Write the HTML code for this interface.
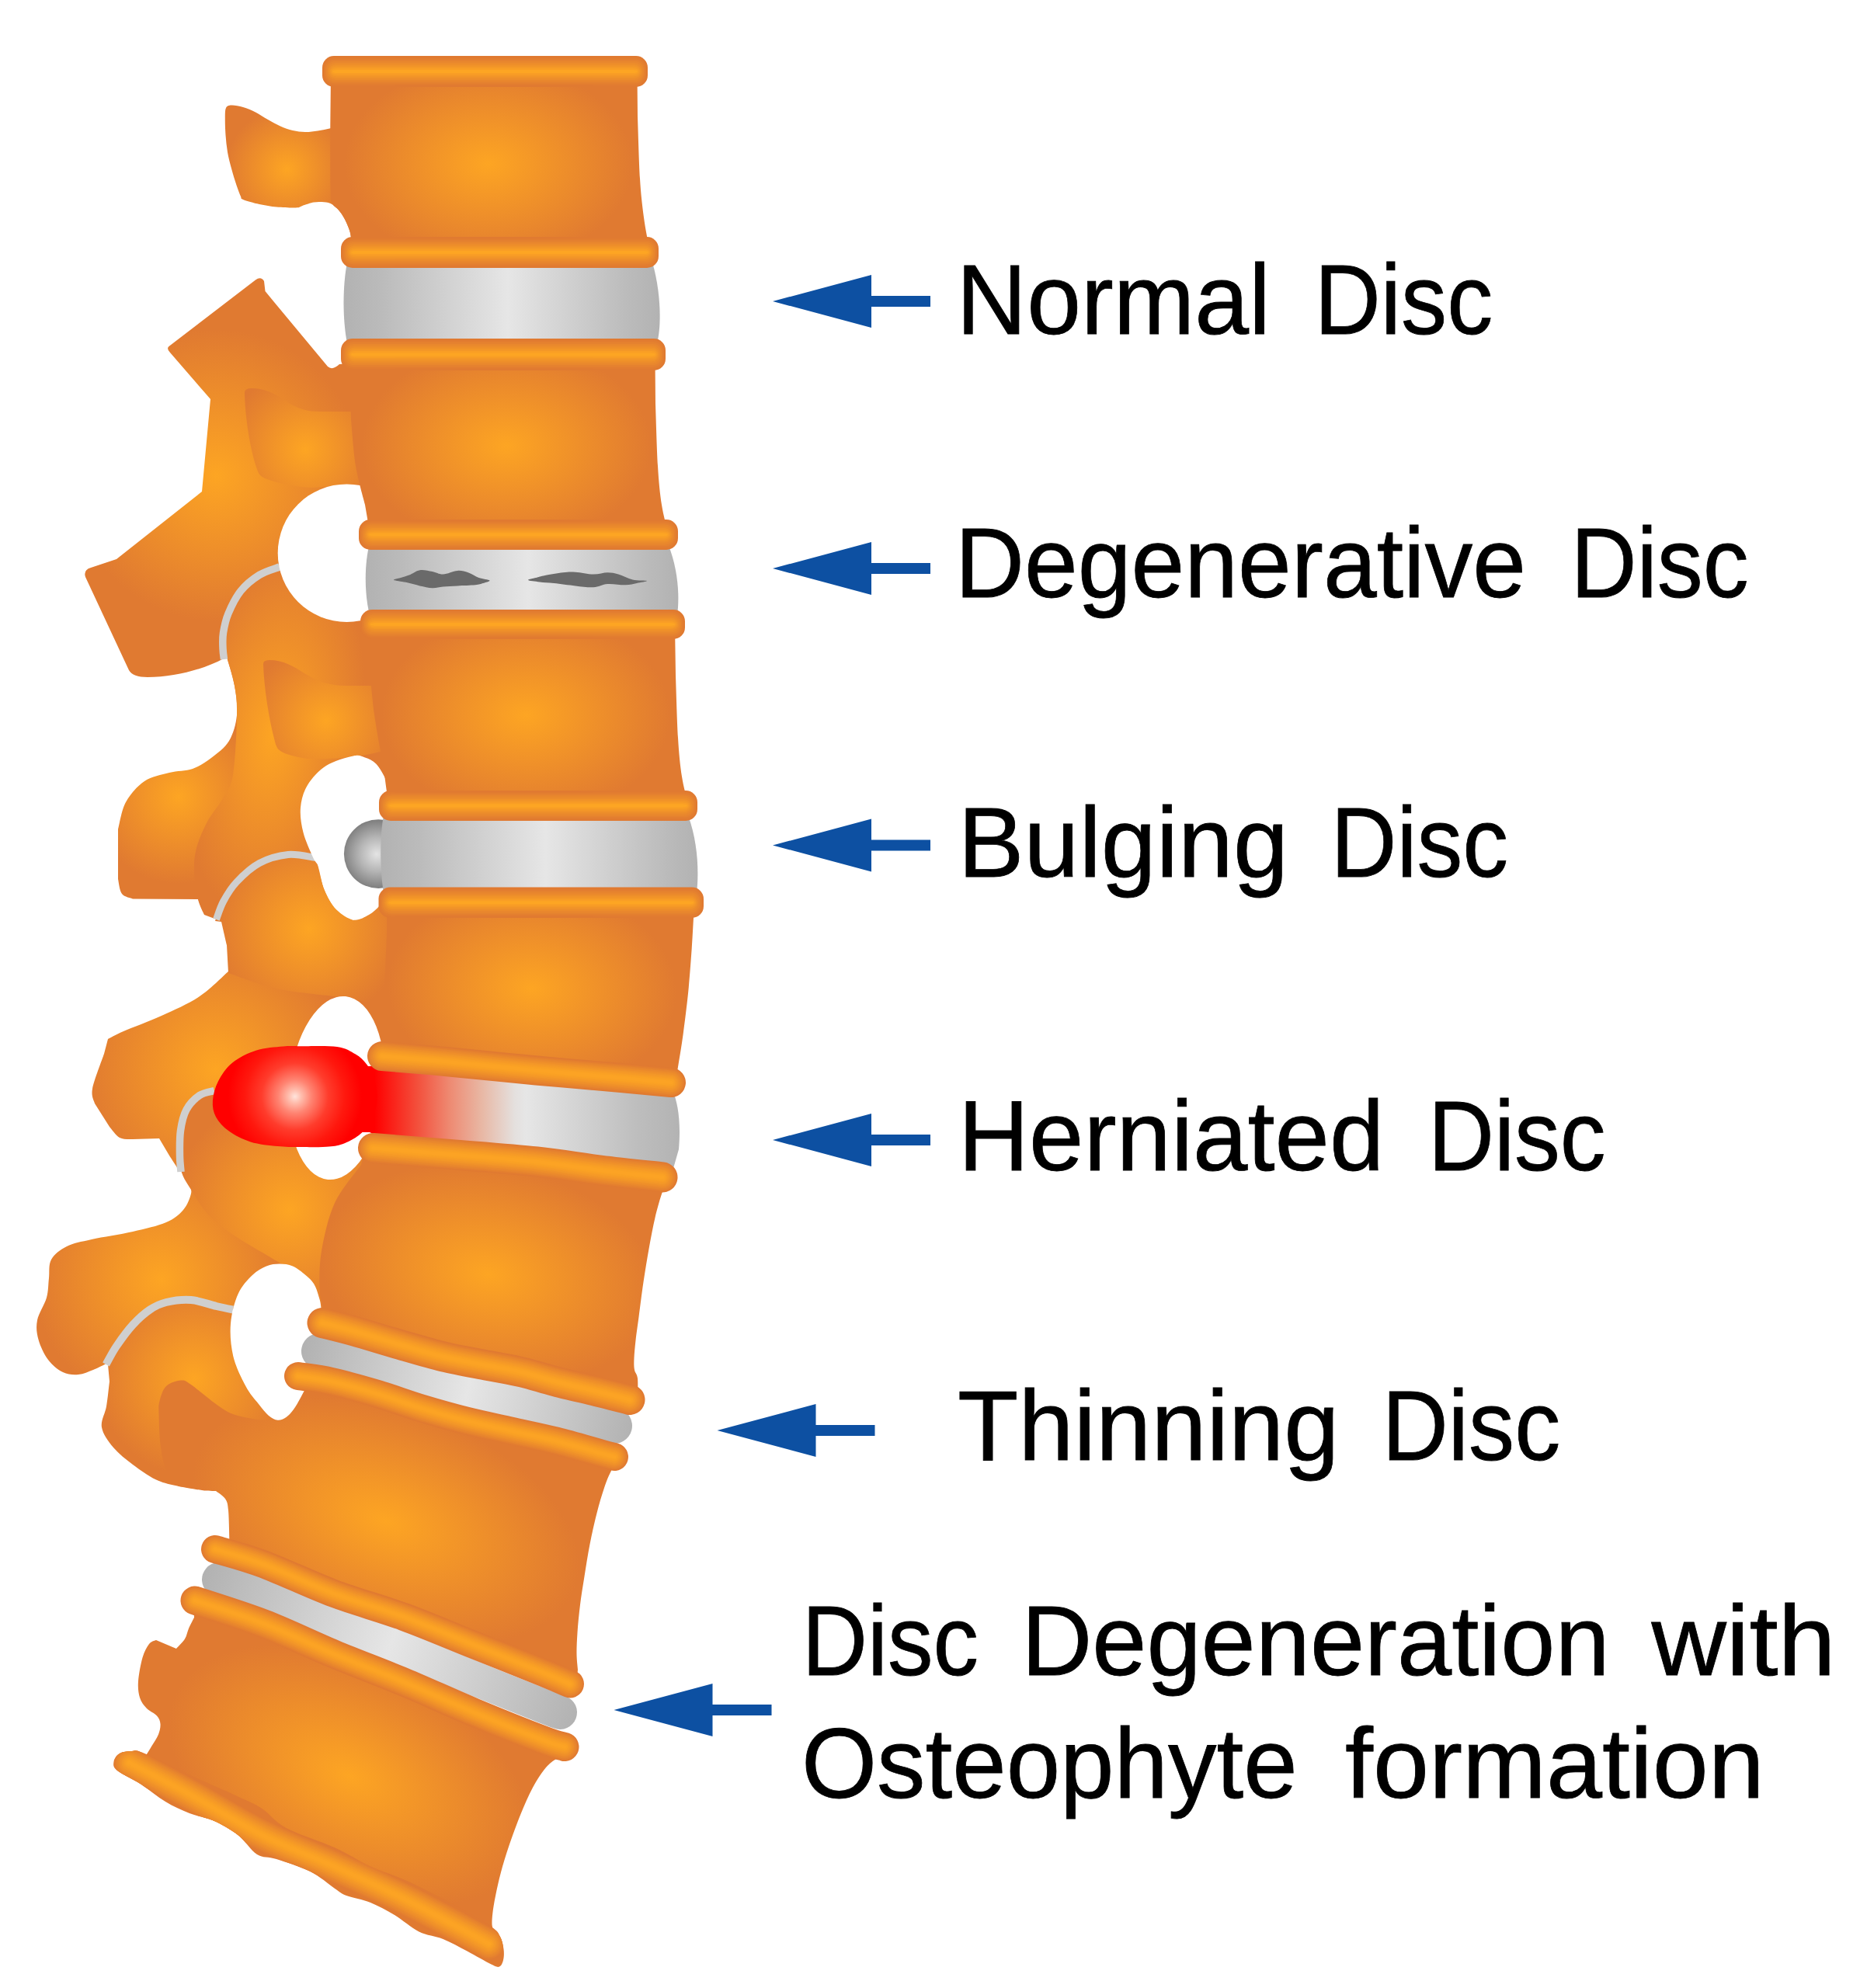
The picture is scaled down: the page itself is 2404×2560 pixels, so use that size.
<!DOCTYPE html>
<html><head><meta charset="utf-8"><title>Spinal disc conditions</title>
<style>
html,body{margin:0;padding:0;background:#fff;}
svg{display:block;}
text{font-family:"Liberation Sans",sans-serif;font-size:128px;fill:#000;stroke:#000;stroke-width:0.8px;}
</style></head><body>
<svg width="2404" height="2560" viewBox="0 0 2404 2560">
<defs>
<linearGradient id="disc" x1="0" x2="1" y1="0" y2="0"><stop offset="0" stop-color="#B2B2B2"/><stop offset="0.12" stop-color="#BBBBBB"/><stop offset="0.52" stop-color="#E6E6E6"/><stop offset="0.9" stop-color="#BBBBBB"/><stop offset="1" stop-color="#B2B2B2"/></linearGradient>
<radialGradient id="g1" gradientUnits="userSpaceOnUse" cx="369.5" cy="218" r="79"><stop offset="0.0" stop-color="#FDA523"/><stop offset="1.0" stop-color="#E07A31"/></radialGradient>
<radialGradient id="g2" gradientUnits="userSpaceOnUse" cx="279" cy="612" r="188"><stop offset="0.0" stop-color="#FDA523"/><stop offset="1.0" stop-color="#E07A31"/></radialGradient>
<radialGradient id="g3" gradientUnits="userSpaceOnUse" cx="393" cy="579" r="102"><stop offset="0.0" stop-color="#FDA523"/><stop offset="1.0" stop-color="#E07A31"/></radialGradient>
<radialGradient id="g4" gradientUnits="userSpaceOnUse" cx="230" cy="1026" r="112"><stop offset="0.0" stop-color="#FDA523"/><stop offset="1.0" stop-color="#E07A31"/></radialGradient>
<radialGradient id="g5" gradientUnits="userSpaceOnUse" cx="0" cy="0" r="1" gradientTransform="translate(352 945) rotate(8) scale(115 235)"><stop offset="0" stop-color="#FDA523"/><stop offset="1" stop-color="#E07A31"/></radialGradient>
<radialGradient id="g6" gradientUnits="userSpaceOnUse" cx="420" cy="928" r="100"><stop offset="0.0" stop-color="#FDA523"/><stop offset="1.0" stop-color="#E07A31"/></radialGradient>
<radialGradient id="g7" gradientUnits="userSpaceOnUse" cx="278" cy="1377" r="170"><stop offset="0.0" stop-color="#FDA523"/><stop offset="1.0" stop-color="#E07A31"/></radialGradient>
<radialGradient id="g8" gradientUnits="userSpaceOnUse" cx="398" cy="1196" r="122"><stop offset="0.0" stop-color="#FDA523"/><stop offset="1.0" stop-color="#E07A31"/></radialGradient>
<radialGradient id="g9" gradientUnits="userSpaceOnUse" cx="208" cy="1648" r="165"><stop offset="0.0" stop-color="#FDA523"/><stop offset="1.0" stop-color="#E07A31"/></radialGradient>
<radialGradient id="g10" gradientUnits="userSpaceOnUse" cx="373" cy="1558" r="150"><stop offset="0.0" stop-color="#FDA523"/><stop offset="1.0" stop-color="#E07A31"/></radialGradient>
<radialGradient id="g11" gradientUnits="userSpaceOnUse" cx="250" cy="1775" r="125"><stop offset="0.0" stop-color="#FDA523"/><stop offset="1.0" stop-color="#E07A31"/></radialGradient>
<radialGradient id="g12" gradientUnits="userSpaceOnUse" cx="0" cy="0" r="1" gradientTransform="translate(497 1959) rotate(19) scale(258 146)"><stop offset="0" stop-color="#FDA523"/><stop offset="1" stop-color="#E07A31"/></radialGradient>
<radialGradient id="g13" gradientUnits="userSpaceOnUse" cx="0" cy="0" r="1" gradientTransform="translate(629 211) rotate(0) scale(186 130)"><stop offset="0" stop-color="#FDA523"/><stop offset="1" stop-color="#E07A31"/></radialGradient>
<radialGradient id="g14" gradientUnits="userSpaceOnUse" cx="0" cy="0" r="1" gradientTransform="translate(652 574) rotate(0) scale(186 130)"><stop offset="0" stop-color="#FDA523"/><stop offset="1" stop-color="#E07A31"/></radialGradient>
<radialGradient id="g15" gradientUnits="userSpaceOnUse" cx="0" cy="0" r="1" gradientTransform="translate(677 921) rotate(0) scale(186 132)"><stop offset="0" stop-color="#FDA523"/><stop offset="1" stop-color="#E07A31"/></radialGradient>
<radialGradient id="g16" gradientUnits="userSpaceOnUse" cx="0" cy="0" r="1" gradientTransform="translate(685 1273) rotate(3) scale(186 132)"><stop offset="0" stop-color="#FDA523"/><stop offset="1" stop-color="#E07A31"/></radialGradient>
<radialGradient id="g17" gradientUnits="userSpaceOnUse" cx="0" cy="0" r="1" gradientTransform="translate(629 1641) rotate(10) scale(218 140)"><stop offset="0" stop-color="#FDA523"/><stop offset="1" stop-color="#E07A31"/></radialGradient>
<radialGradient id="g18" gradientUnits="userSpaceOnUse" cx="0" cy="0" r="1" gradientTransform="translate(450 2287) rotate(25) scale(248 146)"><stop offset="0" stop-color="#FDA523"/><stop offset="1" stop-color="#E07A31"/></radialGradient>
<radialGradient id="bulge" gradientUnits="userSpaceOnUse" cx="485" cy="1100" r="45"><stop offset="0" stop-color="#E4E4E4"/><stop offset="0.5" stop-color="#B4B4B4"/><stop offset="1" stop-color="#7C7C7C"/></radialGradient>
<linearGradient id="d4" gradientUnits="userSpaceOnUse" x1="470" x2="880" y1="0" y2="0"><stop offset="0" stop-color="#FF0000"/><stop offset="0.03" stop-color="#FF0000"/><stop offset="0.165" stop-color="#F3503C"/><stop offset="0.266" stop-color="#EE8A72"/><stop offset="0.368" stop-color="#E8B8A5"/><stop offset="0.47" stop-color="#E4E0DE"/><stop offset="0.505" stop-color="#E6E6E6"/><stop offset="0.85" stop-color="#BEBEBE"/><stop offset="1" stop-color="#B2B2B2"/></linearGradient>
<linearGradient id="d5" gradientUnits="userSpaceOnUse" x1="390" x2="815" y1="1740" y2="1840"><stop offset="0" stop-color="#B2B2B2"/><stop offset="0.5" stop-color="#E6E6E6"/><stop offset="1" stop-color="#B2B2B2"/></linearGradient>
<linearGradient id="d6" gradientUnits="userSpaceOnUse" x1="262" x2="745" y1="2030" y2="2205"><stop offset="0" stop-color="#B2B2B2"/><stop offset="0.5" stop-color="#E6E6E6"/><stop offset="1" stop-color="#B2B2B2"/></linearGradient>
<clipPath id="c19"><path d="M146.5,2268.5 C147.0,2264.8 150.1,2260.2 154.0,2258.0 C157.9,2255.8 164.8,2255.1 170.0,2255.0 C175.2,2254.9 172.7,2252.4 185.0,2257.5 C197.3,2262.6 223.8,2276.2 244.0,2285.5 C264.2,2294.8 290.9,2306.2 306.5,2313.5 C322.1,2320.8 327.2,2322.2 337.5,2329.0 C347.8,2335.8 353.0,2345.7 368.5,2354.0 C384.0,2362.3 412.4,2370.8 430.5,2379.0 C448.6,2387.2 461.4,2396.3 477.0,2403.5 C492.6,2410.7 505.8,2413.7 524.0,2422.0 C542.2,2430.3 567.9,2443.7 586.0,2453.5 C604.1,2463.3 622.8,2474.2 632.5,2481.0 C642.2,2487.8 641.3,2489.2 644.0,2494.0 C646.7,2498.8 647.8,2505.0 648.5,2510.0 C649.2,2515.0 648.9,2520.2 648.0,2524.0 C647.1,2527.8 645.6,2531.6 643.0,2532.5 C640.4,2533.4 639.4,2532.8 632.5,2529.5 C625.6,2526.2 611.8,2517.9 601.5,2512.5 C591.2,2507.1 580.8,2501.2 570.5,2497.0 C560.2,2492.8 549.9,2492.7 539.5,2487.5 C529.1,2482.3 518.4,2472.2 508.0,2466.0 C497.6,2459.8 487.3,2454.2 477.0,2450.0 C466.7,2445.8 453.8,2444.1 446.0,2441.0 C438.2,2437.9 438.2,2436.7 430.5,2431.5 C422.8,2426.3 411.9,2416.2 399.5,2410.0 C387.1,2403.8 367.4,2397.7 356.0,2394.0 C344.6,2390.3 339.2,2393.2 331.0,2388.0 C322.8,2382.8 315.8,2370.2 306.5,2363.0 C297.2,2355.8 285.4,2349.2 275.0,2344.5 C264.6,2339.8 254.3,2339.1 244.0,2335.0 C233.7,2330.9 223.3,2326.2 213.0,2320.0 C202.7,2313.8 192.3,2304.7 182.0,2298.0 C171.7,2291.3 156.9,2284.9 151.0,2280.0 C145.1,2275.1 146.0,2272.2 146.5,2268.5Z"/></clipPath>
<radialGradient id="red" gradientUnits="userSpaceOnUse" cx="379.8" cy="1412" r="86"><stop offset="0" stop-color="#FFE4DC"/><stop offset="0.1" stop-color="#FFBCAC"/><stop offset="0.25" stop-color="#FF8472"/><stop offset="0.5" stop-color="#FF3C2C"/><stop offset="0.75" stop-color="#FF180E"/><stop offset="1" stop-color="#FF0000"/></radialGradient>
</defs>
<rect width="2404" height="2560" fill="#fff"/>
<path d="M445.0,160.0 C441.9,160.8 432.5,163.6 426.5,165.0 C420.5,166.4 414.6,167.7 409.0,168.5 C403.4,169.3 398.3,170.1 393.0,170.0 C387.7,169.9 382.3,169.2 377.0,168.0 C371.7,166.8 366.3,164.8 361.0,162.5 C355.7,160.2 350.3,157.0 345.0,154.0 C339.7,151.0 334.3,147.2 329.0,144.5 C323.7,141.8 318.2,139.5 313.0,138.0 C307.8,136.5 301.7,135.3 298.0,135.5 C294.3,135.7 292.4,136.1 291.0,139.0 C289.6,141.9 289.9,147.2 289.8,153.0 C289.7,158.8 290.0,166.8 290.5,174.0 C291.0,181.2 291.8,188.8 293.0,196.0 C294.2,203.2 296.1,209.9 298.0,217.0 C299.9,224.1 302.5,232.5 304.5,238.5 C306.5,244.5 308.6,249.9 310.0,253.0 C311.4,256.1 309.0,255.3 313.0,257.0 C317.0,258.7 326.8,261.4 334.0,263.0 C341.2,264.6 348.8,265.8 356.0,266.5 C363.2,267.2 372.2,267.4 377.0,267.5 C381.8,267.6 383.2,267.3 384.5,267.3 L391.0,264.3 C393.2,263.7 400.1,261.2 404.0,260.5 C407.9,259.8 410.9,259.8 414.5,260.0 C418.1,260.2 421.9,260.2 425.5,262.0 C429.1,263.8 433.0,267.2 436.0,270.5 C439.0,273.8 441.2,277.2 443.5,281.5 C445.8,285.8 448.6,292.4 450.0,296.5 C451.4,300.6 451.7,304.4 452.0,306.0 L470.0,306.0 L470.0,160.0Z" fill="url(#g1)" />
<path d="M217.5,446 L329,360.5 Q336,355.5 340,362 L341.5,375 L353,389 L422,472 Q428,477.5 437,469 L480,466 L480,720 L358,731 C325,744 296,772 288,805 L288,848 C262,862 225,872 190,872 Q171,872 166,863 L110,743 Q107,734 117,731 L150,720 L260,633 L271,514 L219,454 Q214,449 217.5,446 Z" fill="url(#g2)" />
<path d="M315,507 Q314,500 324,500 C345,500 360,511 372,519 C385,527 397,530 412,530 L480,530 L480,622 L402,628 C380,627 360,623 341,616 Q334,613 332,607 C322,580 316,540 315,507 Z" fill="url(#g3)" />
<path d="M292.0,846.0 C293.7,852.2 299.8,870.5 302.0,883.0 C304.2,895.5 306.2,909.2 305.0,921.0 C303.8,932.8 300.5,944.8 295.0,954.0 C289.5,963.2 279.8,970.0 272.0,976.0 C264.2,982.0 257.0,986.8 248.0,990.0 C239.0,993.2 228.3,992.3 218.0,995.0 C207.7,997.7 195.3,999.7 186.0,1006.0 C176.7,1012.3 167.7,1022.7 162.0,1033.0 C156.3,1043.3 153.7,1062.2 152.0,1068.0 L152.0,1132.0 C152.8,1135.2 153.8,1146.8 157.0,1151.0 C160.2,1155.2 168.7,1156.4 171.0,1157.5 L255.0,1158.0 L263.0,1177.0 L279.0,1178.0 L330.0,1100.0 L400.0,900.0 L330.0,846.0Z" fill="url(#g4)" />
<path d="M358.0,731.0 C354.0,732.7 342.0,736.0 334.0,741.0 C326.0,746.0 316.7,752.8 310.0,761.0 C303.3,769.2 297.8,781.0 294.0,790.0 C290.2,799.0 288.5,807.5 287.5,815.0 C286.5,822.5 287.2,829.8 288.0,835.0 C288.8,840.2 289.7,838.0 292.0,846.0 C294.3,854.0 299.8,870.5 302.0,883.0 C304.2,895.5 305.3,901.8 305.0,921.0 C304.7,940.2 303.0,980.2 300.0,998.0 C297.0,1015.8 292.5,1018.0 287.0,1028.0 C281.5,1038.0 272.7,1047.3 267.0,1058.0 C261.3,1068.7 255.8,1081.3 253.0,1092.0 C250.2,1102.7 249.7,1111.0 250.0,1122.0 C250.3,1133.0 252.8,1148.7 255.0,1158.0 C257.2,1167.3 261.7,1174.7 263.0,1178.0 L279.0,1184.0 L279.0,1183.0 C280.5,1179.3 283.7,1168.8 288.0,1161.0 C292.3,1153.2 297.3,1144.2 305.0,1136.0 C312.7,1127.8 323.0,1117.8 334.0,1112.0 C345.0,1106.2 359.0,1102.3 371.0,1101.0 C383.0,1099.7 400.2,1103.5 406.0,1104.0 L530.0,1104.0 L530.0,731.0Z" fill="url(#g5)" />
<path d="M339,856 Q338,850 347,850 C365,850 378,858 392,867 C410,878 425,883 445,883 L500,883 L500,965 C470,975 430,978 396,977 Q370,973 361,967 Q356,964 354,955 C346,925 340,885 339,856 Z" fill="url(#g6)" />
<path d="M360.0,730.0 C355.7,731.7 342.3,735.2 334.0,740.4 C325.7,745.6 316.7,752.7 310.0,761.0 C303.3,769.3 297.8,781.0 294.0,790.0 C290.2,799.0 288.7,807.5 287.5,815.0 C286.3,822.5 286.8,829.3 287.0,835.0 C287.2,840.7 288.2,846.7 288.5,849.0" fill="none" stroke="#CFCFCF" stroke-width="9.5"/>
<path d="M294.0,1251.0 C287.8,1256.3 271.3,1273.5 257.0,1283.0 C242.7,1292.5 224.3,1300.5 208.0,1308.0 C191.7,1315.5 170.5,1323.0 159.0,1328.0 C147.5,1333.0 142.3,1336.3 139.0,1338.0 L134.0,1357.0 C131.5,1364.5 121.0,1391.3 119.0,1402.0 C117.0,1412.7 121.5,1417.8 122.0,1421.0 L141.0,1451.0 C143.2,1453.3 149.0,1462.3 154.0,1465.0 C159.0,1467.7 168.2,1466.7 171.0,1467.0 L205.0,1466.0 L218.0,1488.0 C220.2,1491.3 228.8,1504.7 231.0,1508.0 L236.0,1508.0 L231.0,1488.0 C231.2,1482.7 230.5,1465.8 232.0,1456.0 C233.5,1446.2 235.8,1436.7 240.0,1429.0 C244.2,1421.3 251.2,1414.0 257.0,1410.0 C262.8,1406.0 272.0,1405.8 275.0,1405.0 L500.0,1400.0 L510.0,1290.0 L430.0,1281.0 C417.7,1279.3 378.7,1276.0 356.0,1271.0 C333.3,1266.0 304.3,1254.3 294.0,1251.0Z" fill="url(#g7)" />
<path d="M277.0,1186.0 C278.8,1181.8 283.3,1169.3 288.0,1161.0 C292.7,1152.7 297.3,1144.2 305.0,1136.0 C312.7,1127.8 323.0,1117.8 334.0,1112.0 C345.0,1106.2 359.0,1102.3 371.0,1101.0 C383.0,1099.7 399.5,1101.3 406.0,1104.0 C412.5,1106.7 408.0,1110.0 410.0,1117.0 C412.0,1124.0 414.2,1137.0 418.0,1146.0 C421.8,1155.0 426.8,1164.5 433.0,1171.0 C439.2,1177.5 451.3,1182.7 455.0,1185.0 L530.0,1100.0 L530.0,1300.0 L430.0,1283.0 C417.7,1281.3 378.7,1278.0 356.0,1273.0 C333.3,1268.0 304.3,1256.3 294.0,1253.0 L292.0,1217.0 C290.8,1212.0 286.2,1192.0 285.0,1187.0Z" fill="url(#g8)" />
<path d="M406.0,1104.5 C400.2,1103.8 383.0,1099.3 371.0,1100.5 C359.0,1101.7 345.1,1105.6 334.0,1111.5 C322.9,1117.4 312.2,1127.8 304.5,1136.0 C296.8,1144.2 291.8,1153.0 287.5,1161.0 C283.2,1169.0 280.0,1180.2 278.5,1184.0" fill="none" stroke="#CFCFCF" stroke-width="9"/>
<path d="M244.0,1524.0 C244.3,1526.2 247.3,1531.3 246.0,1537.0 C244.7,1542.7 241.3,1551.8 236.0,1558.0 C230.7,1564.2 224.8,1569.3 214.0,1574.0 C203.2,1578.7 187.0,1582.3 171.0,1586.0 C155.0,1589.7 132.2,1592.8 118.0,1596.0 C103.8,1599.2 94.7,1600.7 86.0,1605.0 C77.3,1609.3 69.8,1615.2 66.0,1622.0 C62.2,1628.8 64.0,1637.8 63.0,1646.0 C62.0,1654.2 62.5,1662.0 60.0,1671.0 C57.5,1680.0 49.8,1691.0 48.0,1700.0 C46.2,1709.0 47.2,1716.5 49.5,1725.0 C51.8,1733.5 56.8,1744.0 62.0,1751.0 C67.2,1758.0 74.5,1763.8 81.0,1767.0 C87.5,1770.2 94.5,1770.5 101.0,1770.0 C107.5,1769.5 114.0,1766.3 120.0,1764.0 C126.0,1761.7 134.2,1757.3 137.0,1756.0 L137.0,1755.0 C139.2,1751.3 144.3,1741.2 150.0,1733.0 C155.7,1724.8 163.8,1713.8 171.0,1706.0 C178.2,1698.2 185.8,1690.8 193.0,1686.0 C200.2,1681.2 205.2,1679.0 214.0,1677.0 C222.8,1675.0 235.3,1673.2 246.0,1674.0 C256.7,1674.8 269.0,1680.0 278.0,1682.0 C287.0,1684.0 296.3,1685.3 300.0,1686.0 L420.0,1700.0 L420.0,1560.0Z" fill="url(#g9)" />
<path d="M280.0,1403.0 C276.2,1404.2 263.7,1406.2 257.0,1410.5 C250.3,1414.8 244.1,1421.4 240.0,1429.0 C235.9,1436.6 233.9,1446.2 232.5,1456.0 C231.1,1465.8 231.2,1479.0 231.5,1488.0 C231.8,1497.0 231.6,1502.7 234.0,1510.0 C236.4,1517.3 240.3,1523.0 246.0,1532.0 C251.7,1541.0 259.0,1554.3 268.0,1564.0 C277.0,1573.7 287.5,1581.3 300.0,1590.0 C312.5,1598.7 332.2,1609.5 343.0,1616.0 C353.8,1622.5 361.3,1626.8 365.0,1629.0 L372.0,1710.0 L440.0,1710.0 L500.0,1480.0 L420.0,1400.0Z" fill="url(#g10)" />
<path d="M276.0,1404.5 C272.8,1405.5 263.0,1406.4 257.0,1410.5 C251.0,1414.6 244.1,1421.4 240.0,1429.0 C235.9,1436.6 233.9,1446.2 232.5,1456.0 C231.1,1465.8 231.4,1479.2 231.5,1488.0 C231.6,1496.8 232.8,1505.5 233.0,1509.0" fill="none" stroke="#CFCFCF" stroke-width="9.5"/>
<path d="M300.0,1690.0 C296.3,1689.2 287.0,1687.0 278.0,1685.0 C269.0,1683.0 256.7,1678.8 246.0,1678.0 C235.3,1677.2 222.8,1678.0 214.0,1680.0 C205.2,1682.0 200.2,1685.2 193.0,1690.0 C185.8,1694.8 178.2,1701.3 171.0,1709.0 C163.8,1716.7 155.3,1728.0 150.0,1736.0 C144.7,1744.0 140.8,1753.5 139.0,1757.0 L141.0,1779.0 C140.3,1784.3 138.7,1801.2 137.0,1811.0 C135.3,1820.8 129.5,1829.2 131.0,1838.0 C132.5,1846.8 139.3,1856.0 146.0,1864.0 C152.7,1872.0 162.0,1879.2 171.0,1886.0 C180.0,1892.8 190.8,1900.5 200.0,1905.0 C209.2,1909.5 216.0,1910.7 226.0,1913.0 C236.0,1915.3 251.3,1917.8 260.0,1919.0 C268.7,1920.2 275.0,1919.8 278.0,1920.0 L400.0,1900.0 L400.0,1700.0Z" fill="url(#g11)" />
<path d="M300.0,1686.5 C296.4,1685.8 287.5,1684.1 278.5,1682.0 C269.5,1679.9 256.8,1674.8 246.0,1674.0 C235.2,1673.2 222.8,1674.9 214.0,1677.0 C205.2,1679.1 200.2,1681.7 193.0,1686.5 C185.8,1691.3 178.2,1698.2 171.0,1706.0 C163.8,1713.8 155.8,1725.0 150.0,1733.5 C144.2,1742.0 138.8,1753.1 136.5,1757.0" fill="none" stroke="#CFCFCF" stroke-width="10"/>
<path d="M358.0,1829.0 C353.7,1828.8 341.7,1829.3 332.0,1828.0 C322.3,1826.7 309.0,1824.3 300.0,1821.0 C291.0,1817.7 287.0,1814.3 278.0,1808.0 C269.0,1801.7 253.5,1788.1 246.0,1783.0 C238.5,1777.9 238.3,1777.2 233.0,1777.5 C227.7,1777.8 218.6,1780.6 214.0,1785.0 C209.4,1789.4 207.1,1798.0 205.5,1804.0 C203.9,1810.0 204.2,1811.0 204.5,1821.0 C204.8,1831.0 205.1,1850.8 207.0,1864.0 C208.9,1877.2 212.2,1891.7 216.0,1900.0 C219.8,1908.3 227.7,1911.7 230.0,1914.0 L278.0,1920.0 C280.0,1921.7 287.3,1925.8 290.0,1930.0 C292.7,1934.2 293.1,1935.8 294.0,1945.0 C294.9,1954.2 295.2,1978.3 295.5,1985.0 L280.0,2000.0 L742.0,2172.0 L744.0,2150.0 C743.8,2146.7 742.6,2137.9 742.5,2130.0 C742.4,2122.1 742.8,2113.1 743.5,2102.5 C744.2,2091.9 745.5,2078.6 747.0,2066.5 C748.5,2054.4 750.4,2043.0 752.5,2030.0 C754.6,2017.0 756.8,2002.1 759.5,1988.5 C762.2,1974.9 765.4,1960.6 768.5,1948.5 C771.6,1936.4 774.9,1925.1 778.0,1916.0 C781.1,1906.9 783.3,1901.3 787.0,1894.0 C790.7,1886.7 797.8,1875.7 800.0,1872.0 L370.0,1775.0Z" fill="url(#g12)" />
<circle cx="446.5" cy="712.2" r="88.8" fill="#fff"/>
<path d="M500.4,1018.0 C499.8,1015.6 499.4,1009.2 496.7,1003.5 C494.0,997.8 488.8,988.5 484.4,983.8 C479.9,979.1 474.9,977.2 470.0,975.5 C465.1,973.8 463.3,971.6 455.0,973.4 C446.7,975.1 429.8,979.7 420.0,986.0 C410.2,992.3 401.5,1002.0 396.0,1011.0 C390.5,1020.0 387.9,1029.8 387.0,1040.0 C386.1,1050.2 387.8,1061.3 390.5,1072.0 C393.2,1082.7 399.7,1096.5 403.0,1104.0 C406.3,1111.5 408.0,1110.0 410.5,1117.0 C413.0,1124.0 414.2,1137.0 418.0,1146.0 C421.8,1155.0 426.8,1164.6 433.0,1171.0 C439.2,1177.4 448.0,1183.4 455.0,1184.6 C462.0,1185.8 469.3,1181.1 475.0,1178.0 C480.7,1174.9 484.8,1170.7 489.0,1166.0 C493.2,1161.3 498.2,1152.7 500.0,1150.0 L530.0,1150.0 L530.0,1018.0Z" fill="#fff" />
<ellipse cx="433.5" cy="1401" rx="61" ry="118.5" fill="#fff" transform="rotate(5.5 433.5 1401)"/>
<path d="M360.0,1627.5 C365.7,1627.5 371.4,1628.1 377.0,1630.5 C382.6,1632.9 389.0,1638.2 393.5,1642.0 C398.0,1645.8 401.2,1648.7 404.0,1653.0 C406.8,1657.3 408.4,1662.7 410.0,1668.0 C411.6,1673.3 413.0,1676.3 413.5,1685.0 C414.0,1693.7 413.9,1709.2 413.0,1720.0 C412.1,1730.8 410.5,1740.3 408.0,1750.0 C405.5,1759.7 401.5,1769.7 398.0,1778.0 C394.5,1786.3 390.3,1793.8 387.0,1800.0 C383.7,1806.2 381.1,1810.8 378.0,1815.0 C374.9,1819.2 371.9,1822.7 368.5,1825.0 C365.1,1827.3 361.2,1829.1 357.5,1828.8 C353.8,1828.5 350.1,1826.5 346.0,1823.0 C341.9,1819.5 337.9,1814.3 333.0,1808.0 C328.1,1801.7 321.8,1795.3 316.4,1785.0 C310.9,1774.7 303.5,1759.8 300.3,1746.4 C297.1,1733.0 295.9,1718.0 297.0,1704.6 C298.1,1691.2 302.0,1676.4 306.7,1666.0 C311.4,1655.6 318.9,1647.9 325.0,1642.0 C331.1,1636.1 337.2,1632.9 343.0,1630.5 C348.8,1628.1 354.3,1627.5 360.0,1627.5Z" fill="#fff"/>
<path d="M426.0,95.0 L820.5,95.0 L821.0,150.0 C821.5,163.3 822.7,208.3 824.0,230.0 C825.3,251.7 827.0,265.0 829.0,280.0 C831.0,295.0 834.8,313.3 836.0,320.0 L452.0,320.0 L452.0,306.0 C451.7,304.4 451.4,300.6 450.0,296.5 C448.6,292.4 445.8,285.8 443.5,281.5 C441.2,277.2 438.6,273.8 436.0,270.5 C433.4,267.2 429.8,266.2 428.0,262.0 C426.2,257.8 425.9,262.0 425.5,245.0 C425.1,228.0 425.3,174.2 425.3,160.0Z" fill="url(#g13)" />
<path d="M450.0,460.0 L843.5,460.0 L844.0,520.0 C844.5,533.3 845.7,578.3 847.0,600.0 C848.3,621.7 849.8,635.8 852.0,650.0 C854.2,664.2 858.7,679.2 860.0,685.0 L476.0,685.0 L470.0,650.0 C468.0,641.7 461.0,618.3 458.0,600.0 C455.0,581.7 453.0,550.0 452.0,540.0Z" fill="url(#g14)" />
<path d="M474.5,805.0 L869.0,805.0 L870.0,870.0 C870.5,883.3 871.7,928.3 873.0,950.0 C874.3,971.7 875.8,985.8 878.0,1000.0 C880.2,1014.2 884.7,1029.2 886.0,1035.0 L500.0,1035.0 L494.0,990.0 C492.0,978.3 485.0,941.7 482.0,920.0 C479.0,898.3 477.0,870.0 476.0,860.0Z" fill="url(#g15)" />
<path d="M498.0,1165.0 L893.0,1165.0 L893.0,1182.0 C892.6,1188.6 891.8,1205.8 890.7,1221.5 C889.6,1237.2 888.1,1258.1 886.3,1276.5 C884.4,1294.9 881.8,1315.8 879.6,1332.0 C877.4,1348.2 874.9,1362.3 873.0,1374.0 C871.1,1385.7 868.8,1397.3 868.0,1402.0 L478.0,1362.0 L491.0,1345.0 C491.2,1340.8 491.5,1329.2 492.0,1320.0 C492.5,1310.8 493.3,1301.7 494.0,1290.0 C494.7,1278.3 495.3,1265.0 496.0,1250.0 C496.7,1235.0 497.7,1208.3 498.0,1200.0Z" fill="url(#g16)" />
<path d="M470.0,1480.0 L868.0,1518.0 L860.0,1520.0 C858.8,1522.7 855.2,1528.0 852.5,1536.0 C849.8,1544.0 846.2,1556.4 843.5,1568.0 C840.8,1579.6 838.5,1591.7 836.0,1605.5 C833.5,1619.3 830.8,1635.9 828.5,1651.0 C826.2,1666.1 824.2,1683.5 822.5,1696.0 C820.8,1708.5 819.5,1717.2 818.5,1726.0 C817.5,1734.8 816.8,1742.7 816.5,1749.0 C816.2,1755.3 816.2,1759.7 817.0,1764.0 C817.8,1768.3 820.3,1769.0 821.0,1775.0 C821.7,1781.0 821.0,1795.8 821.0,1800.0 L402.0,1706.0 L416.0,1684.0 C415.2,1680.0 411.8,1672.2 411.5,1660.0 C411.2,1647.8 410.8,1629.5 414.0,1611.0 C417.2,1592.5 422.5,1567.5 431.0,1549.0 C439.5,1530.5 459.3,1508.2 465.0,1500.0Z" fill="url(#g17)" />
<path d="M250.0,2066.0 L250.0,2083.0 C248.8,2085.3 245.0,2092.4 243.0,2097.0 C241.0,2101.6 240.7,2106.2 238.0,2110.5 C235.3,2114.8 228.8,2120.9 227.0,2123.0 L201.0,2112.0 C199.5,2112.8 194.9,2113.2 192.0,2117.0 C189.1,2120.8 185.8,2126.5 183.5,2134.5 C181.2,2142.5 178.6,2156.4 178.0,2165.0 C177.4,2173.6 178.2,2180.2 180.0,2186.0 C181.8,2191.8 184.8,2195.6 188.5,2199.5 C192.2,2203.4 199.0,2206.1 202.0,2209.5 C205.0,2212.9 206.2,2216.0 206.5,2220.0 C206.8,2224.0 205.9,2228.7 204.0,2233.5 C202.1,2238.3 197.9,2244.1 195.0,2249.0 C192.1,2253.9 187.9,2260.7 186.5,2263.0 L165.0,2272.0 L640.0,2510.0 L636.0,2487.0 C635.6,2485.7 633.9,2482.8 633.6,2479.0 C633.3,2475.2 633.6,2470.2 634.3,2464.0 C635.0,2457.8 636.2,2450.3 638.0,2441.5 C639.8,2432.7 642.1,2421.8 645.0,2411.0 C647.9,2400.2 651.2,2389.0 655.5,2376.5 C659.8,2364.0 665.5,2348.3 670.5,2336.0 C675.5,2323.7 680.6,2312.1 685.7,2302.5 C690.8,2292.9 696.0,2284.8 701.0,2278.5 C706.0,2272.2 710.3,2268.9 716.0,2265.0 C721.7,2261.1 731.8,2256.7 735.0,2255.0 L735.0,2245.0Z" fill="url(#g18)" />
<path d="M447,338 C441,368 441,412 447,442 L846,442 C852,420 851,375 840,338Z" fill="url(#disc)"/>
<path d="M476,700 C469,725 469,765 476,792 L872,792 C875,770 874,735 860,700Z" fill="url(#disc)"/>
<path d="M507.2,747.0 C505.8,746.0 512.7,745.1 516.0,744.0 C519.3,742.9 522.7,742.2 526.8,740.6 C530.9,739.0 535.6,735.0 540.6,734.2 C545.6,733.4 551.7,735.1 556.7,736.0 C561.7,736.9 565.1,739.7 570.5,739.5 C575.9,739.3 583.6,735.3 589.0,734.9 C594.4,734.5 598.2,735.7 602.8,737.2 C607.4,738.7 612.0,742.3 616.6,744.0 C621.2,745.7 629.5,746.3 630.4,747.5 C631.3,748.7 625.1,750.0 622.0,751.0 C618.9,752.0 617.5,752.7 612.0,753.3 C606.5,753.9 595.9,754.0 589.0,754.4 C582.1,754.8 575.9,755.1 570.5,755.6 C565.1,756.1 561.7,757.4 556.7,757.2 C551.7,757.0 546.0,755.5 540.6,754.4 C535.2,753.2 530.1,751.5 524.5,750.3 C518.9,749.1 508.6,748.0 507.2,747.0Z" fill="#6A6A6A" />
<path d="M680.0,747.0 C679.2,746.1 686.4,745.0 690.0,744.0 C693.6,743.0 696.0,742.1 701.8,741.0 C707.6,739.9 718.3,737.9 724.8,737.2 C731.3,736.5 734.5,736.3 741.0,736.7 C747.5,737.1 757.1,739.4 764.0,739.5 C770.9,739.6 777.0,737.2 782.4,737.2 C787.8,737.2 790.8,738.0 796.2,739.5 C801.6,741.0 808.6,745.0 814.7,746.4 C820.8,747.8 832.1,747.2 833.0,748.0 C833.9,748.8 824.6,750.1 820.0,751.0 C815.4,751.9 811.7,753.1 805.4,753.3 C799.1,753.5 789.3,751.5 782.4,752.0 C775.5,752.5 770.9,755.9 764.0,756.3 C757.1,756.7 749.5,755.3 741.0,754.4 C732.5,753.5 721.0,751.8 713.3,751.0 C705.6,750.2 700.5,750.1 695.0,749.4 C689.5,748.7 680.8,747.9 680.0,747.0Z" fill="#6A6A6A" />
<circle cx="487.3" cy="1099.6" r="44.4" fill="url(#bulge)"/>
<path d="M494,1050 C489,1075 489,1120 494,1150 L897,1150 C900,1125 899,1085 886,1050Z" fill="url(#disc)"/>
<path d="M445,1373 L476,1373 L494,1371 L579,1377 L691,1388 L800,1398 L866,1404 C873,1420 877,1445 874,1480 L866,1508 L773,1497 L691,1486 L579,1476 L492,1466 L476,1458 L445,1458Z" fill="url(#d4)" />
<path d="M411.0,1740.0 C418.5,1741.7 439.0,1745.5 456.0,1750.0 C473.0,1754.5 493.8,1761.5 513.0,1767.0 C532.2,1772.5 551.7,1778.0 571.0,1783.0 C590.3,1788.0 604.8,1791.3 629.0,1797.0 C653.2,1802.7 689.0,1810.5 716.0,1817.0 C743.0,1823.5 778.5,1832.8 791.0,1836.0" fill="none" stroke="url(#d5)" stroke-width="46" stroke-linecap="round"/>
<path d="M282.0,2034.0 C291.7,2037.2 315.3,2043.5 340.0,2053.0 C364.7,2062.5 400.0,2079.2 430.0,2091.0 C460.0,2102.8 490.0,2112.3 520.0,2124.0 C550.0,2135.7 580.0,2148.8 610.0,2161.0 C640.0,2173.2 681.5,2189.7 700.0,2197.0 C718.5,2204.3 717.5,2203.7 721.0,2205.0" fill="none" stroke="url(#d6)" stroke-width="44" stroke-linecap="round"/>
<rect x="415.0" y="72.0" width="419.0" height="40.0" rx="15.0" fill="#E07A31"/>
<rect x="416.6" y="74.2" width="415.8" height="35.5" rx="13.9" fill="#E27D30"/>
<rect x="418.2" y="76.5" width="412.5" height="31.0" rx="12.8" fill="#E5822F"/>
<rect x="419.9" y="78.8" width="409.2" height="26.5" rx="11.6" fill="#E9872D"/>
<rect x="421.5" y="81.0" width="406.0" height="22.0" rx="10.5" fill="#EC8C2B"/>
<rect x="423.1" y="83.2" width="402.8" height="17.5" rx="9.4" fill="#F09229"/>
<rect x="424.8" y="85.5" width="399.5" height="13.0" rx="8.2" fill="#F49827"/>
<rect x="426.4" y="87.8" width="396.2" height="8.5" rx="7.1" fill="#F99E25"/>
<rect x="428.0" y="90.0" width="393.0" height="4.0" rx="6.0" fill="#FDA523"/>
<rect x="439.0" y="305.0" width="409.0" height="40.0" rx="15.0" fill="#E07A31"/>
<rect x="440.6" y="307.2" width="405.8" height="35.5" rx="13.9" fill="#E27D30"/>
<rect x="442.2" y="309.5" width="402.5" height="31.0" rx="12.8" fill="#E5822F"/>
<rect x="443.9" y="311.8" width="399.2" height="26.5" rx="11.6" fill="#E9872D"/>
<rect x="445.5" y="314.0" width="396.0" height="22.0" rx="10.5" fill="#EC8C2B"/>
<rect x="447.1" y="316.2" width="392.8" height="17.5" rx="9.4" fill="#F09229"/>
<rect x="448.8" y="318.5" width="389.5" height="13.0" rx="8.2" fill="#F49827"/>
<rect x="450.4" y="320.8" width="386.2" height="8.5" rx="7.1" fill="#F99E25"/>
<rect x="452.0" y="323.0" width="383.0" height="4.0" rx="6.0" fill="#FDA523"/>
<rect x="439.0" y="436.0" width="418.0" height="41.0" rx="15.0" fill="#E07A31"/>
<rect x="440.6" y="438.3" width="414.8" height="36.4" rx="13.8" fill="#E27D30"/>
<rect x="442.2" y="440.6" width="411.5" height="31.8" rx="12.7" fill="#E5822F"/>
<rect x="443.9" y="442.9" width="408.2" height="27.2" rx="11.5" fill="#E9872D"/>
<rect x="445.5" y="445.2" width="405.0" height="22.6" rx="10.4" fill="#EC8C2B"/>
<rect x="447.1" y="447.5" width="401.8" height="17.9" rx="9.2" fill="#F09229"/>
<rect x="448.8" y="449.8" width="398.5" height="13.3" rx="8.1" fill="#F49827"/>
<rect x="450.4" y="452.1" width="395.2" height="8.7" rx="6.9" fill="#F99E25"/>
<rect x="452.0" y="454.4" width="392.0" height="4.1" rx="5.8" fill="#FDA523"/>
<rect x="462.0" y="669.0" width="411.0" height="39.0" rx="15.0" fill="#E07A31"/>
<rect x="463.6" y="671.2" width="407.8" height="34.6" rx="13.9" fill="#E27D30"/>
<rect x="465.2" y="673.4" width="404.5" height="30.2" rx="12.8" fill="#E5822F"/>
<rect x="466.9" y="675.6" width="401.2" height="25.8" rx="11.7" fill="#E9872D"/>
<rect x="468.5" y="677.8" width="398.0" height="21.4" rx="10.6" fill="#EC8C2B"/>
<rect x="470.1" y="680.0" width="394.8" height="17.1" rx="9.5" fill="#F09229"/>
<rect x="471.8" y="682.2" width="391.5" height="12.7" rx="8.4" fill="#F49827"/>
<rect x="473.4" y="684.4" width="388.2" height="8.3" rx="7.3" fill="#F99E25"/>
<rect x="475.0" y="686.5" width="385.0" height="3.9" rx="6.2" fill="#FDA523"/>
<rect x="464.0" y="785.0" width="418.0" height="38.0" rx="15.0" fill="#E07A31"/>
<rect x="465.6" y="787.1" width="414.8" height="33.7" rx="13.9" fill="#E27D30"/>
<rect x="467.2" y="789.3" width="411.5" height="29.4" rx="12.9" fill="#E5822F"/>
<rect x="468.9" y="791.4" width="408.2" height="25.2" rx="11.8" fill="#E9872D"/>
<rect x="470.5" y="793.5" width="405.0" height="20.9" rx="10.7" fill="#EC8C2B"/>
<rect x="472.1" y="795.7" width="401.8" height="16.6" rx="9.7" fill="#F09229"/>
<rect x="473.8" y="797.8" width="398.5" height="12.3" rx="8.6" fill="#F49827"/>
<rect x="475.4" y="800.0" width="395.2" height="8.1" rx="7.5" fill="#F99E25"/>
<rect x="477.0" y="802.1" width="392.0" height="3.8" rx="6.4" fill="#FDA523"/>
<rect x="488.0" y="1018.0" width="410.0" height="39.0" rx="15.0" fill="#E07A31"/>
<rect x="489.6" y="1020.2" width="406.8" height="34.6" rx="13.9" fill="#E27D30"/>
<rect x="491.2" y="1022.4" width="403.5" height="30.2" rx="12.8" fill="#E5822F"/>
<rect x="492.9" y="1024.6" width="400.2" height="25.8" rx="11.7" fill="#E9872D"/>
<rect x="494.5" y="1026.8" width="397.0" height="21.4" rx="10.6" fill="#EC8C2B"/>
<rect x="496.1" y="1029.0" width="393.8" height="17.1" rx="9.5" fill="#F09229"/>
<rect x="497.8" y="1031.2" width="390.5" height="12.7" rx="8.4" fill="#F49827"/>
<rect x="499.4" y="1033.4" width="387.2" height="8.3" rx="7.3" fill="#F99E25"/>
<rect x="501.0" y="1035.5" width="384.0" height="3.9" rx="6.2" fill="#FDA523"/>
<rect x="487.5" y="1142.5" width="418.5" height="39.5" rx="15.0" fill="#E07A31"/>
<rect x="489.1" y="1144.7" width="415.2" height="35.1" rx="13.9" fill="#E27D30"/>
<rect x="490.8" y="1146.9" width="412.0" height="30.6" rx="12.8" fill="#E5822F"/>
<rect x="492.4" y="1149.2" width="408.8" height="26.2" rx="11.7" fill="#E9872D"/>
<rect x="494.0" y="1151.4" width="405.5" height="21.7" rx="10.6" fill="#EC8C2B"/>
<rect x="495.6" y="1153.6" width="402.2" height="17.3" rx="9.4" fill="#F09229"/>
<rect x="497.2" y="1155.8" width="399.0" height="12.8" rx="8.3" fill="#F49827"/>
<rect x="498.9" y="1158.1" width="395.8" height="8.4" rx="7.2" fill="#F99E25"/>
<rect x="500.5" y="1160.3" width="392.5" height="3.9" rx="6.1" fill="#FDA523"/>
<path d="M492.0,1360.0 C506.5,1361.2 545.8,1364.4 579.0,1367.5 C612.2,1370.6 654.2,1375.1 691.0,1378.5 C727.8,1381.9 771.2,1385.4 800.0,1388.0 C828.8,1390.6 853.3,1393.0 864.0,1394.0" fill="none" stroke="#E07A31" stroke-width="38.0" stroke-linecap="round" stroke-linejoin="round"/>
<path d="M492.0,1360.0 C506.5,1361.2 545.8,1364.4 579.0,1367.5 C612.2,1370.6 654.2,1375.1 691.0,1378.5 C727.8,1381.9 771.2,1385.4 800.0,1388.0 C828.8,1390.6 853.3,1393.0 864.0,1394.0" fill="none" stroke="#E47F2F" stroke-width="34.7" stroke-linecap="round" stroke-linejoin="round"/>
<path d="M492.0,1360.0 C506.5,1361.2 545.8,1364.4 579.0,1367.5 C612.2,1370.6 654.2,1375.1 691.0,1378.5 C727.8,1381.9 771.2,1385.4 800.0,1388.0 C828.8,1390.6 853.3,1393.0 864.0,1394.0" fill="none" stroke="#E7852E" stroke-width="31.3" stroke-linecap="round" stroke-linejoin="round"/>
<path d="M492.0,1360.0 C506.5,1361.2 545.8,1364.4 579.0,1367.5 C612.2,1370.6 654.2,1375.1 691.0,1378.5 C727.8,1381.9 771.2,1385.4 800.0,1388.0 C828.8,1390.6 853.3,1393.0 864.0,1394.0" fill="none" stroke="#EA892C" stroke-width="28.0" stroke-linecap="round" stroke-linejoin="round"/>
<path d="M492.0,1360.0 C506.5,1361.2 545.8,1364.4 579.0,1367.5 C612.2,1370.6 654.2,1375.1 691.0,1378.5 C727.8,1381.9 771.2,1385.4 800.0,1388.0 C828.8,1390.6 853.3,1393.0 864.0,1394.0" fill="none" stroke="#EE8E2A" stroke-width="24.6" stroke-linecap="round" stroke-linejoin="round"/>
<path d="M492.0,1360.0 C506.5,1361.2 545.8,1364.4 579.0,1367.5 C612.2,1370.6 654.2,1375.1 691.0,1378.5 C727.8,1381.9 771.2,1385.4 800.0,1388.0 C828.8,1390.6 853.3,1393.0 864.0,1394.0" fill="none" stroke="#F09229" stroke-width="21.3" stroke-linecap="round" stroke-linejoin="round"/>
<path d="M492.0,1360.0 C506.5,1361.2 545.8,1364.4 579.0,1367.5 C612.2,1370.6 654.2,1375.1 691.0,1378.5 C727.8,1381.9 771.2,1385.4 800.0,1388.0 C828.8,1390.6 853.3,1393.0 864.0,1394.0" fill="none" stroke="#F39728" stroke-width="17.9" stroke-linecap="round" stroke-linejoin="round"/>
<path d="M492.0,1360.0 C506.5,1361.2 545.8,1364.4 579.0,1367.5 C612.2,1370.6 654.2,1375.1 691.0,1378.5 C727.8,1381.9 771.2,1385.4 800.0,1388.0 C828.8,1390.6 853.3,1393.0 864.0,1394.0" fill="none" stroke="#F69A26" stroke-width="14.6" stroke-linecap="round" stroke-linejoin="round"/>
<path d="M492.0,1360.0 C506.5,1361.2 545.8,1364.4 579.0,1367.5 C612.2,1370.6 654.2,1375.1 691.0,1378.5 C727.8,1381.9 771.2,1385.4 800.0,1388.0 C828.8,1390.6 853.3,1393.0 864.0,1394.0" fill="none" stroke="#F89E25" stroke-width="11.2" stroke-linecap="round" stroke-linejoin="round"/>
<path d="M492.0,1360.0 C506.5,1361.2 545.8,1364.4 579.0,1367.5 C612.2,1370.6 654.2,1375.1 691.0,1378.5 C727.8,1381.9 771.2,1385.4 800.0,1388.0 C828.8,1390.6 853.3,1393.0 864.0,1394.0" fill="none" stroke="#FAA124" stroke-width="7.9" stroke-linecap="round" stroke-linejoin="round"/>
<path d="M492.0,1360.0 C506.5,1361.2 545.8,1364.4 579.0,1367.5 C612.2,1370.6 654.2,1375.1 691.0,1378.5 C727.8,1381.9 771.2,1385.4 800.0,1388.0 C828.8,1390.6 853.3,1393.0 864.0,1394.0" fill="none" stroke="#FCA324" stroke-width="4.6" stroke-linecap="round" stroke-linejoin="round"/>
<path d="M480.5,1478.5 C496.9,1479.8 543.9,1483.6 579.0,1486.5 C614.1,1489.4 658.7,1492.6 691.0,1496.0 C723.3,1499.4 746.0,1503.7 773.0,1507.0 C800.0,1510.3 839.7,1514.5 853.0,1516.0" fill="none" stroke="#E07A31" stroke-width="39.0" stroke-linecap="round" stroke-linejoin="round"/>
<path d="M480.5,1478.5 C496.9,1479.8 543.9,1483.6 579.0,1486.5 C614.1,1489.4 658.7,1492.6 691.0,1496.0 C723.3,1499.4 746.0,1503.7 773.0,1507.0 C800.0,1510.3 839.7,1514.5 853.0,1516.0" fill="none" stroke="#E47F2F" stroke-width="35.6" stroke-linecap="round" stroke-linejoin="round"/>
<path d="M480.5,1478.5 C496.9,1479.8 543.9,1483.6 579.0,1486.5 C614.1,1489.4 658.7,1492.6 691.0,1496.0 C723.3,1499.4 746.0,1503.7 773.0,1507.0 C800.0,1510.3 839.7,1514.5 853.0,1516.0" fill="none" stroke="#E7852E" stroke-width="32.1" stroke-linecap="round" stroke-linejoin="round"/>
<path d="M480.5,1478.5 C496.9,1479.8 543.9,1483.6 579.0,1486.5 C614.1,1489.4 658.7,1492.6 691.0,1496.0 C723.3,1499.4 746.0,1503.7 773.0,1507.0 C800.0,1510.3 839.7,1514.5 853.0,1516.0" fill="none" stroke="#EA892C" stroke-width="28.7" stroke-linecap="round" stroke-linejoin="round"/>
<path d="M480.5,1478.5 C496.9,1479.8 543.9,1483.6 579.0,1486.5 C614.1,1489.4 658.7,1492.6 691.0,1496.0 C723.3,1499.4 746.0,1503.7 773.0,1507.0 C800.0,1510.3 839.7,1514.5 853.0,1516.0" fill="none" stroke="#EE8E2A" stroke-width="25.3" stroke-linecap="round" stroke-linejoin="round"/>
<path d="M480.5,1478.5 C496.9,1479.8 543.9,1483.6 579.0,1486.5 C614.1,1489.4 658.7,1492.6 691.0,1496.0 C723.3,1499.4 746.0,1503.7 773.0,1507.0 C800.0,1510.3 839.7,1514.5 853.0,1516.0" fill="none" stroke="#F09229" stroke-width="21.8" stroke-linecap="round" stroke-linejoin="round"/>
<path d="M480.5,1478.5 C496.9,1479.8 543.9,1483.6 579.0,1486.5 C614.1,1489.4 658.7,1492.6 691.0,1496.0 C723.3,1499.4 746.0,1503.7 773.0,1507.0 C800.0,1510.3 839.7,1514.5 853.0,1516.0" fill="none" stroke="#F39728" stroke-width="18.4" stroke-linecap="round" stroke-linejoin="round"/>
<path d="M480.5,1478.5 C496.9,1479.8 543.9,1483.6 579.0,1486.5 C614.1,1489.4 658.7,1492.6 691.0,1496.0 C723.3,1499.4 746.0,1503.7 773.0,1507.0 C800.0,1510.3 839.7,1514.5 853.0,1516.0" fill="none" stroke="#F69A26" stroke-width="15.0" stroke-linecap="round" stroke-linejoin="round"/>
<path d="M480.5,1478.5 C496.9,1479.8 543.9,1483.6 579.0,1486.5 C614.1,1489.4 658.7,1492.6 691.0,1496.0 C723.3,1499.4 746.0,1503.7 773.0,1507.0 C800.0,1510.3 839.7,1514.5 853.0,1516.0" fill="none" stroke="#F89E25" stroke-width="11.5" stroke-linecap="round" stroke-linejoin="round"/>
<path d="M480.5,1478.5 C496.9,1479.8 543.9,1483.6 579.0,1486.5 C614.1,1489.4 658.7,1492.6 691.0,1496.0 C723.3,1499.4 746.0,1503.7 773.0,1507.0 C800.0,1510.3 839.7,1514.5 853.0,1516.0" fill="none" stroke="#FAA124" stroke-width="8.1" stroke-linecap="round" stroke-linejoin="round"/>
<path d="M480.5,1478.5 C496.9,1479.8 543.9,1483.6 579.0,1486.5 C614.1,1489.4 658.7,1492.6 691.0,1496.0 C723.3,1499.4 746.0,1503.7 773.0,1507.0 C800.0,1510.3 839.7,1514.5 853.0,1516.0" fill="none" stroke="#FCA324" stroke-width="4.7" stroke-linecap="round" stroke-linejoin="round"/>
<path d="M415.0,1703.5 C421.8,1705.2 439.6,1709.4 456.0,1714.0 C472.4,1718.6 494.3,1725.5 513.5,1731.0 C532.7,1736.5 551.8,1742.4 571.0,1747.0 C590.2,1751.6 612.1,1755.2 629.0,1758.5 C645.9,1761.8 658.0,1763.6 672.5,1767.0 C687.0,1770.4 699.1,1774.7 716.0,1779.0 C732.9,1783.3 758.2,1789.1 774.0,1793.0 C789.8,1796.9 804.8,1800.9 811.0,1802.5" fill="none" stroke="#E07A31" stroke-width="39.0" stroke-linecap="round" stroke-linejoin="round"/>
<path d="M415.0,1703.5 C421.8,1705.2 439.6,1709.4 456.0,1714.0 C472.4,1718.6 494.3,1725.5 513.5,1731.0 C532.7,1736.5 551.8,1742.4 571.0,1747.0 C590.2,1751.6 612.1,1755.2 629.0,1758.5 C645.9,1761.8 658.0,1763.6 672.5,1767.0 C687.0,1770.4 699.1,1774.7 716.0,1779.0 C732.9,1783.3 758.2,1789.1 774.0,1793.0 C789.8,1796.9 804.8,1800.9 811.0,1802.5" fill="none" stroke="#E47F2F" stroke-width="35.6" stroke-linecap="round" stroke-linejoin="round"/>
<path d="M415.0,1703.5 C421.8,1705.2 439.6,1709.4 456.0,1714.0 C472.4,1718.6 494.3,1725.5 513.5,1731.0 C532.7,1736.5 551.8,1742.4 571.0,1747.0 C590.2,1751.6 612.1,1755.2 629.0,1758.5 C645.9,1761.8 658.0,1763.6 672.5,1767.0 C687.0,1770.4 699.1,1774.7 716.0,1779.0 C732.9,1783.3 758.2,1789.1 774.0,1793.0 C789.8,1796.9 804.8,1800.9 811.0,1802.5" fill="none" stroke="#E7852E" stroke-width="32.1" stroke-linecap="round" stroke-linejoin="round"/>
<path d="M415.0,1703.5 C421.8,1705.2 439.6,1709.4 456.0,1714.0 C472.4,1718.6 494.3,1725.5 513.5,1731.0 C532.7,1736.5 551.8,1742.4 571.0,1747.0 C590.2,1751.6 612.1,1755.2 629.0,1758.5 C645.9,1761.8 658.0,1763.6 672.5,1767.0 C687.0,1770.4 699.1,1774.7 716.0,1779.0 C732.9,1783.3 758.2,1789.1 774.0,1793.0 C789.8,1796.9 804.8,1800.9 811.0,1802.5" fill="none" stroke="#EA892C" stroke-width="28.7" stroke-linecap="round" stroke-linejoin="round"/>
<path d="M415.0,1703.5 C421.8,1705.2 439.6,1709.4 456.0,1714.0 C472.4,1718.6 494.3,1725.5 513.5,1731.0 C532.7,1736.5 551.8,1742.4 571.0,1747.0 C590.2,1751.6 612.1,1755.2 629.0,1758.5 C645.9,1761.8 658.0,1763.6 672.5,1767.0 C687.0,1770.4 699.1,1774.7 716.0,1779.0 C732.9,1783.3 758.2,1789.1 774.0,1793.0 C789.8,1796.9 804.8,1800.9 811.0,1802.5" fill="none" stroke="#EE8E2A" stroke-width="25.3" stroke-linecap="round" stroke-linejoin="round"/>
<path d="M415.0,1703.5 C421.8,1705.2 439.6,1709.4 456.0,1714.0 C472.4,1718.6 494.3,1725.5 513.5,1731.0 C532.7,1736.5 551.8,1742.4 571.0,1747.0 C590.2,1751.6 612.1,1755.2 629.0,1758.5 C645.9,1761.8 658.0,1763.6 672.5,1767.0 C687.0,1770.4 699.1,1774.7 716.0,1779.0 C732.9,1783.3 758.2,1789.1 774.0,1793.0 C789.8,1796.9 804.8,1800.9 811.0,1802.5" fill="none" stroke="#F09229" stroke-width="21.8" stroke-linecap="round" stroke-linejoin="round"/>
<path d="M415.0,1703.5 C421.8,1705.2 439.6,1709.4 456.0,1714.0 C472.4,1718.6 494.3,1725.5 513.5,1731.0 C532.7,1736.5 551.8,1742.4 571.0,1747.0 C590.2,1751.6 612.1,1755.2 629.0,1758.5 C645.9,1761.8 658.0,1763.6 672.5,1767.0 C687.0,1770.4 699.1,1774.7 716.0,1779.0 C732.9,1783.3 758.2,1789.1 774.0,1793.0 C789.8,1796.9 804.8,1800.9 811.0,1802.5" fill="none" stroke="#F39728" stroke-width="18.4" stroke-linecap="round" stroke-linejoin="round"/>
<path d="M415.0,1703.5 C421.8,1705.2 439.6,1709.4 456.0,1714.0 C472.4,1718.6 494.3,1725.5 513.5,1731.0 C532.7,1736.5 551.8,1742.4 571.0,1747.0 C590.2,1751.6 612.1,1755.2 629.0,1758.5 C645.9,1761.8 658.0,1763.6 672.5,1767.0 C687.0,1770.4 699.1,1774.7 716.0,1779.0 C732.9,1783.3 758.2,1789.1 774.0,1793.0 C789.8,1796.9 804.8,1800.9 811.0,1802.5" fill="none" stroke="#F69A26" stroke-width="15.0" stroke-linecap="round" stroke-linejoin="round"/>
<path d="M415.0,1703.5 C421.8,1705.2 439.6,1709.4 456.0,1714.0 C472.4,1718.6 494.3,1725.5 513.5,1731.0 C532.7,1736.5 551.8,1742.4 571.0,1747.0 C590.2,1751.6 612.1,1755.2 629.0,1758.5 C645.9,1761.8 658.0,1763.6 672.5,1767.0 C687.0,1770.4 699.1,1774.7 716.0,1779.0 C732.9,1783.3 758.2,1789.1 774.0,1793.0 C789.8,1796.9 804.8,1800.9 811.0,1802.5" fill="none" stroke="#F89E25" stroke-width="11.5" stroke-linecap="round" stroke-linejoin="round"/>
<path d="M415.0,1703.5 C421.8,1705.2 439.6,1709.4 456.0,1714.0 C472.4,1718.6 494.3,1725.5 513.5,1731.0 C532.7,1736.5 551.8,1742.4 571.0,1747.0 C590.2,1751.6 612.1,1755.2 629.0,1758.5 C645.9,1761.8 658.0,1763.6 672.5,1767.0 C687.0,1770.4 699.1,1774.7 716.0,1779.0 C732.9,1783.3 758.2,1789.1 774.0,1793.0 C789.8,1796.9 804.8,1800.9 811.0,1802.5" fill="none" stroke="#FAA124" stroke-width="8.1" stroke-linecap="round" stroke-linejoin="round"/>
<path d="M415.0,1703.5 C421.8,1705.2 439.6,1709.4 456.0,1714.0 C472.4,1718.6 494.3,1725.5 513.5,1731.0 C532.7,1736.5 551.8,1742.4 571.0,1747.0 C590.2,1751.6 612.1,1755.2 629.0,1758.5 C645.9,1761.8 658.0,1763.6 672.5,1767.0 C687.0,1770.4 699.1,1774.7 716.0,1779.0 C732.9,1783.3 758.2,1789.1 774.0,1793.0 C789.8,1796.9 804.8,1800.9 811.0,1802.5" fill="none" stroke="#FCA324" stroke-width="4.7" stroke-linecap="round" stroke-linejoin="round"/>
<path d="M384.0,1772.0 C391.2,1773.2 410.2,1775.2 427.0,1779.0 C443.8,1782.8 465.2,1788.8 484.5,1794.5 C503.8,1800.2 523.2,1807.7 542.5,1813.5 C561.8,1819.3 580.8,1824.7 600.0,1829.5 C619.2,1834.3 638.7,1838.2 658.0,1842.5 C677.3,1846.8 696.7,1850.7 716.0,1855.5 C735.3,1860.3 761.5,1868.1 774.0,1871.5 C786.5,1874.9 788.2,1875.2 791.0,1876.0" fill="none" stroke="#E07A31" stroke-width="36.0" stroke-linecap="round" stroke-linejoin="round"/>
<path d="M384.0,1772.0 C391.2,1773.2 410.2,1775.2 427.0,1779.0 C443.8,1782.8 465.2,1788.8 484.5,1794.5 C503.8,1800.2 523.2,1807.7 542.5,1813.5 C561.8,1819.3 580.8,1824.7 600.0,1829.5 C619.2,1834.3 638.7,1838.2 658.0,1842.5 C677.3,1846.8 696.7,1850.7 716.0,1855.5 C735.3,1860.3 761.5,1868.1 774.0,1871.5 C786.5,1874.9 788.2,1875.2 791.0,1876.0" fill="none" stroke="#E47F2F" stroke-width="32.8" stroke-linecap="round" stroke-linejoin="round"/>
<path d="M384.0,1772.0 C391.2,1773.2 410.2,1775.2 427.0,1779.0 C443.8,1782.8 465.2,1788.8 484.5,1794.5 C503.8,1800.2 523.2,1807.7 542.5,1813.5 C561.8,1819.3 580.8,1824.7 600.0,1829.5 C619.2,1834.3 638.7,1838.2 658.0,1842.5 C677.3,1846.8 696.7,1850.7 716.0,1855.5 C735.3,1860.3 761.5,1868.1 774.0,1871.5 C786.5,1874.9 788.2,1875.2 791.0,1876.0" fill="none" stroke="#E7852E" stroke-width="29.7" stroke-linecap="round" stroke-linejoin="round"/>
<path d="M384.0,1772.0 C391.2,1773.2 410.2,1775.2 427.0,1779.0 C443.8,1782.8 465.2,1788.8 484.5,1794.5 C503.8,1800.2 523.2,1807.7 542.5,1813.5 C561.8,1819.3 580.8,1824.7 600.0,1829.5 C619.2,1834.3 638.7,1838.2 658.0,1842.5 C677.3,1846.8 696.7,1850.7 716.0,1855.5 C735.3,1860.3 761.5,1868.1 774.0,1871.5 C786.5,1874.9 788.2,1875.2 791.0,1876.0" fill="none" stroke="#EA892C" stroke-width="26.5" stroke-linecap="round" stroke-linejoin="round"/>
<path d="M384.0,1772.0 C391.2,1773.2 410.2,1775.2 427.0,1779.0 C443.8,1782.8 465.2,1788.8 484.5,1794.5 C503.8,1800.2 523.2,1807.7 542.5,1813.5 C561.8,1819.3 580.8,1824.7 600.0,1829.5 C619.2,1834.3 638.7,1838.2 658.0,1842.5 C677.3,1846.8 696.7,1850.7 716.0,1855.5 C735.3,1860.3 761.5,1868.1 774.0,1871.5 C786.5,1874.9 788.2,1875.2 791.0,1876.0" fill="none" stroke="#EE8E2A" stroke-width="23.3" stroke-linecap="round" stroke-linejoin="round"/>
<path d="M384.0,1772.0 C391.2,1773.2 410.2,1775.2 427.0,1779.0 C443.8,1782.8 465.2,1788.8 484.5,1794.5 C503.8,1800.2 523.2,1807.7 542.5,1813.5 C561.8,1819.3 580.8,1824.7 600.0,1829.5 C619.2,1834.3 638.7,1838.2 658.0,1842.5 C677.3,1846.8 696.7,1850.7 716.0,1855.5 C735.3,1860.3 761.5,1868.1 774.0,1871.5 C786.5,1874.9 788.2,1875.2 791.0,1876.0" fill="none" stroke="#F09229" stroke-width="20.2" stroke-linecap="round" stroke-linejoin="round"/>
<path d="M384.0,1772.0 C391.2,1773.2 410.2,1775.2 427.0,1779.0 C443.8,1782.8 465.2,1788.8 484.5,1794.5 C503.8,1800.2 523.2,1807.7 542.5,1813.5 C561.8,1819.3 580.8,1824.7 600.0,1829.5 C619.2,1834.3 638.7,1838.2 658.0,1842.5 C677.3,1846.8 696.7,1850.7 716.0,1855.5 C735.3,1860.3 761.5,1868.1 774.0,1871.5 C786.5,1874.9 788.2,1875.2 791.0,1876.0" fill="none" stroke="#F39728" stroke-width="17.0" stroke-linecap="round" stroke-linejoin="round"/>
<path d="M384.0,1772.0 C391.2,1773.2 410.2,1775.2 427.0,1779.0 C443.8,1782.8 465.2,1788.8 484.5,1794.5 C503.8,1800.2 523.2,1807.7 542.5,1813.5 C561.8,1819.3 580.8,1824.7 600.0,1829.5 C619.2,1834.3 638.7,1838.2 658.0,1842.5 C677.3,1846.8 696.7,1850.7 716.0,1855.5 C735.3,1860.3 761.5,1868.1 774.0,1871.5 C786.5,1874.9 788.2,1875.2 791.0,1876.0" fill="none" stroke="#F69A26" stroke-width="13.8" stroke-linecap="round" stroke-linejoin="round"/>
<path d="M384.0,1772.0 C391.2,1773.2 410.2,1775.2 427.0,1779.0 C443.8,1782.8 465.2,1788.8 484.5,1794.5 C503.8,1800.2 523.2,1807.7 542.5,1813.5 C561.8,1819.3 580.8,1824.7 600.0,1829.5 C619.2,1834.3 638.7,1838.2 658.0,1842.5 C677.3,1846.8 696.7,1850.7 716.0,1855.5 C735.3,1860.3 761.5,1868.1 774.0,1871.5 C786.5,1874.9 788.2,1875.2 791.0,1876.0" fill="none" stroke="#F89E25" stroke-width="10.7" stroke-linecap="round" stroke-linejoin="round"/>
<path d="M384.0,1772.0 C391.2,1773.2 410.2,1775.2 427.0,1779.0 C443.8,1782.8 465.2,1788.8 484.5,1794.5 C503.8,1800.2 523.2,1807.7 542.5,1813.5 C561.8,1819.3 580.8,1824.7 600.0,1829.5 C619.2,1834.3 638.7,1838.2 658.0,1842.5 C677.3,1846.8 696.7,1850.7 716.0,1855.5 C735.3,1860.3 761.5,1868.1 774.0,1871.5 C786.5,1874.9 788.2,1875.2 791.0,1876.0" fill="none" stroke="#FAA124" stroke-width="7.5" stroke-linecap="round" stroke-linejoin="round"/>
<path d="M384.0,1772.0 C391.2,1773.2 410.2,1775.2 427.0,1779.0 C443.8,1782.8 465.2,1788.8 484.5,1794.5 C503.8,1800.2 523.2,1807.7 542.5,1813.5 C561.8,1819.3 580.8,1824.7 600.0,1829.5 C619.2,1834.3 638.7,1838.2 658.0,1842.5 C677.3,1846.8 696.7,1850.7 716.0,1855.5 C735.3,1860.3 761.5,1868.1 774.0,1871.5 C786.5,1874.9 788.2,1875.2 791.0,1876.0" fill="none" stroke="#FCA324" stroke-width="4.3" stroke-linecap="round" stroke-linejoin="round"/>
<path d="M277.0,1995.0 C287.5,1998.2 314.5,2005.0 340.0,2014.5 C365.5,2024.0 400.0,2040.8 430.0,2052.0 C460.0,2063.2 490.0,2071.0 520.0,2082.0 C550.0,2093.0 580.0,2106.0 610.0,2118.0 C640.0,2130.0 679.3,2145.6 700.0,2154.0 C720.7,2162.4 728.3,2166.1 734.0,2168.5" fill="none" stroke="#E07A31" stroke-width="36.0" stroke-linecap="round" stroke-linejoin="round"/>
<path d="M277.0,1995.0 C287.5,1998.2 314.5,2005.0 340.0,2014.5 C365.5,2024.0 400.0,2040.8 430.0,2052.0 C460.0,2063.2 490.0,2071.0 520.0,2082.0 C550.0,2093.0 580.0,2106.0 610.0,2118.0 C640.0,2130.0 679.3,2145.6 700.0,2154.0 C720.7,2162.4 728.3,2166.1 734.0,2168.5" fill="none" stroke="#E47F2F" stroke-width="32.8" stroke-linecap="round" stroke-linejoin="round"/>
<path d="M277.0,1995.0 C287.5,1998.2 314.5,2005.0 340.0,2014.5 C365.5,2024.0 400.0,2040.8 430.0,2052.0 C460.0,2063.2 490.0,2071.0 520.0,2082.0 C550.0,2093.0 580.0,2106.0 610.0,2118.0 C640.0,2130.0 679.3,2145.6 700.0,2154.0 C720.7,2162.4 728.3,2166.1 734.0,2168.5" fill="none" stroke="#E7852E" stroke-width="29.7" stroke-linecap="round" stroke-linejoin="round"/>
<path d="M277.0,1995.0 C287.5,1998.2 314.5,2005.0 340.0,2014.5 C365.5,2024.0 400.0,2040.8 430.0,2052.0 C460.0,2063.2 490.0,2071.0 520.0,2082.0 C550.0,2093.0 580.0,2106.0 610.0,2118.0 C640.0,2130.0 679.3,2145.6 700.0,2154.0 C720.7,2162.4 728.3,2166.1 734.0,2168.5" fill="none" stroke="#EA892C" stroke-width="26.5" stroke-linecap="round" stroke-linejoin="round"/>
<path d="M277.0,1995.0 C287.5,1998.2 314.5,2005.0 340.0,2014.5 C365.5,2024.0 400.0,2040.8 430.0,2052.0 C460.0,2063.2 490.0,2071.0 520.0,2082.0 C550.0,2093.0 580.0,2106.0 610.0,2118.0 C640.0,2130.0 679.3,2145.6 700.0,2154.0 C720.7,2162.4 728.3,2166.1 734.0,2168.5" fill="none" stroke="#EE8E2A" stroke-width="23.3" stroke-linecap="round" stroke-linejoin="round"/>
<path d="M277.0,1995.0 C287.5,1998.2 314.5,2005.0 340.0,2014.5 C365.5,2024.0 400.0,2040.8 430.0,2052.0 C460.0,2063.2 490.0,2071.0 520.0,2082.0 C550.0,2093.0 580.0,2106.0 610.0,2118.0 C640.0,2130.0 679.3,2145.6 700.0,2154.0 C720.7,2162.4 728.3,2166.1 734.0,2168.5" fill="none" stroke="#F09229" stroke-width="20.2" stroke-linecap="round" stroke-linejoin="round"/>
<path d="M277.0,1995.0 C287.5,1998.2 314.5,2005.0 340.0,2014.5 C365.5,2024.0 400.0,2040.8 430.0,2052.0 C460.0,2063.2 490.0,2071.0 520.0,2082.0 C550.0,2093.0 580.0,2106.0 610.0,2118.0 C640.0,2130.0 679.3,2145.6 700.0,2154.0 C720.7,2162.4 728.3,2166.1 734.0,2168.5" fill="none" stroke="#F39728" stroke-width="17.0" stroke-linecap="round" stroke-linejoin="round"/>
<path d="M277.0,1995.0 C287.5,1998.2 314.5,2005.0 340.0,2014.5 C365.5,2024.0 400.0,2040.8 430.0,2052.0 C460.0,2063.2 490.0,2071.0 520.0,2082.0 C550.0,2093.0 580.0,2106.0 610.0,2118.0 C640.0,2130.0 679.3,2145.6 700.0,2154.0 C720.7,2162.4 728.3,2166.1 734.0,2168.5" fill="none" stroke="#F69A26" stroke-width="13.8" stroke-linecap="round" stroke-linejoin="round"/>
<path d="M277.0,1995.0 C287.5,1998.2 314.5,2005.0 340.0,2014.5 C365.5,2024.0 400.0,2040.8 430.0,2052.0 C460.0,2063.2 490.0,2071.0 520.0,2082.0 C550.0,2093.0 580.0,2106.0 610.0,2118.0 C640.0,2130.0 679.3,2145.6 700.0,2154.0 C720.7,2162.4 728.3,2166.1 734.0,2168.5" fill="none" stroke="#F89E25" stroke-width="10.7" stroke-linecap="round" stroke-linejoin="round"/>
<path d="M277.0,1995.0 C287.5,1998.2 314.5,2005.0 340.0,2014.5 C365.5,2024.0 400.0,2040.8 430.0,2052.0 C460.0,2063.2 490.0,2071.0 520.0,2082.0 C550.0,2093.0 580.0,2106.0 610.0,2118.0 C640.0,2130.0 679.3,2145.6 700.0,2154.0 C720.7,2162.4 728.3,2166.1 734.0,2168.5" fill="none" stroke="#FAA124" stroke-width="7.5" stroke-linecap="round" stroke-linejoin="round"/>
<path d="M277.0,1995.0 C287.5,1998.2 314.5,2005.0 340.0,2014.5 C365.5,2024.0 400.0,2040.8 430.0,2052.0 C460.0,2063.2 490.0,2071.0 520.0,2082.0 C550.0,2093.0 580.0,2106.0 610.0,2118.0 C640.0,2130.0 679.3,2145.6 700.0,2154.0 C720.7,2162.4 728.3,2166.1 734.0,2168.5" fill="none" stroke="#FCA324" stroke-width="4.3" stroke-linecap="round" stroke-linejoin="round"/>
<path d="M251.0,2061.0 C265.8,2066.0 310.2,2079.5 340.0,2091.0 C369.8,2102.5 400.0,2117.5 430.0,2130.0 C460.0,2142.5 490.0,2153.5 520.0,2166.0 C550.0,2178.5 580.0,2192.5 610.0,2205.0 C640.0,2217.5 680.5,2233.6 700.0,2241.0 C719.5,2248.4 722.5,2248.1 727.0,2249.5" fill="none" stroke="#E07A31" stroke-width="37.0" stroke-linecap="round" stroke-linejoin="round"/>
<path d="M251.0,2061.0 C265.8,2066.0 310.2,2079.5 340.0,2091.0 C369.8,2102.5 400.0,2117.5 430.0,2130.0 C460.0,2142.5 490.0,2153.5 520.0,2166.0 C550.0,2178.5 580.0,2192.5 610.0,2205.0 C640.0,2217.5 680.5,2233.6 700.0,2241.0 C719.5,2248.4 722.5,2248.1 727.0,2249.5" fill="none" stroke="#E47F2F" stroke-width="33.7" stroke-linecap="round" stroke-linejoin="round"/>
<path d="M251.0,2061.0 C265.8,2066.0 310.2,2079.5 340.0,2091.0 C369.8,2102.5 400.0,2117.5 430.0,2130.0 C460.0,2142.5 490.0,2153.5 520.0,2166.0 C550.0,2178.5 580.0,2192.5 610.0,2205.0 C640.0,2217.5 680.5,2233.6 700.0,2241.0 C719.5,2248.4 722.5,2248.1 727.0,2249.5" fill="none" stroke="#E7852E" stroke-width="30.5" stroke-linecap="round" stroke-linejoin="round"/>
<path d="M251.0,2061.0 C265.8,2066.0 310.2,2079.5 340.0,2091.0 C369.8,2102.5 400.0,2117.5 430.0,2130.0 C460.0,2142.5 490.0,2153.5 520.0,2166.0 C550.0,2178.5 580.0,2192.5 610.0,2205.0 C640.0,2217.5 680.5,2233.6 700.0,2241.0 C719.5,2248.4 722.5,2248.1 727.0,2249.5" fill="none" stroke="#EA892C" stroke-width="27.2" stroke-linecap="round" stroke-linejoin="round"/>
<path d="M251.0,2061.0 C265.8,2066.0 310.2,2079.5 340.0,2091.0 C369.8,2102.5 400.0,2117.5 430.0,2130.0 C460.0,2142.5 490.0,2153.5 520.0,2166.0 C550.0,2178.5 580.0,2192.5 610.0,2205.0 C640.0,2217.5 680.5,2233.6 700.0,2241.0 C719.5,2248.4 722.5,2248.1 727.0,2249.5" fill="none" stroke="#EE8E2A" stroke-width="24.0" stroke-linecap="round" stroke-linejoin="round"/>
<path d="M251.0,2061.0 C265.8,2066.0 310.2,2079.5 340.0,2091.0 C369.8,2102.5 400.0,2117.5 430.0,2130.0 C460.0,2142.5 490.0,2153.5 520.0,2166.0 C550.0,2178.5 580.0,2192.5 610.0,2205.0 C640.0,2217.5 680.5,2233.6 700.0,2241.0 C719.5,2248.4 722.5,2248.1 727.0,2249.5" fill="none" stroke="#F09229" stroke-width="20.7" stroke-linecap="round" stroke-linejoin="round"/>
<path d="M251.0,2061.0 C265.8,2066.0 310.2,2079.5 340.0,2091.0 C369.8,2102.5 400.0,2117.5 430.0,2130.0 C460.0,2142.5 490.0,2153.5 520.0,2166.0 C550.0,2178.5 580.0,2192.5 610.0,2205.0 C640.0,2217.5 680.5,2233.6 700.0,2241.0 C719.5,2248.4 722.5,2248.1 727.0,2249.5" fill="none" stroke="#F39728" stroke-width="17.5" stroke-linecap="round" stroke-linejoin="round"/>
<path d="M251.0,2061.0 C265.8,2066.0 310.2,2079.5 340.0,2091.0 C369.8,2102.5 400.0,2117.5 430.0,2130.0 C460.0,2142.5 490.0,2153.5 520.0,2166.0 C550.0,2178.5 580.0,2192.5 610.0,2205.0 C640.0,2217.5 680.5,2233.6 700.0,2241.0 C719.5,2248.4 722.5,2248.1 727.0,2249.5" fill="none" stroke="#F69A26" stroke-width="14.2" stroke-linecap="round" stroke-linejoin="round"/>
<path d="M251.0,2061.0 C265.8,2066.0 310.2,2079.5 340.0,2091.0 C369.8,2102.5 400.0,2117.5 430.0,2130.0 C460.0,2142.5 490.0,2153.5 520.0,2166.0 C550.0,2178.5 580.0,2192.5 610.0,2205.0 C640.0,2217.5 680.5,2233.6 700.0,2241.0 C719.5,2248.4 722.5,2248.1 727.0,2249.5" fill="none" stroke="#F89E25" stroke-width="11.0" stroke-linecap="round" stroke-linejoin="round"/>
<path d="M251.0,2061.0 C265.8,2066.0 310.2,2079.5 340.0,2091.0 C369.8,2102.5 400.0,2117.5 430.0,2130.0 C460.0,2142.5 490.0,2153.5 520.0,2166.0 C550.0,2178.5 580.0,2192.5 610.0,2205.0 C640.0,2217.5 680.5,2233.6 700.0,2241.0 C719.5,2248.4 722.5,2248.1 727.0,2249.5" fill="none" stroke="#FAA124" stroke-width="7.7" stroke-linecap="round" stroke-linejoin="round"/>
<path d="M251.0,2061.0 C265.8,2066.0 310.2,2079.5 340.0,2091.0 C369.8,2102.5 400.0,2117.5 430.0,2130.0 C460.0,2142.5 490.0,2153.5 520.0,2166.0 C550.0,2178.5 580.0,2192.5 610.0,2205.0 C640.0,2217.5 680.5,2233.6 700.0,2241.0 C719.5,2248.4 722.5,2248.1 727.0,2249.5" fill="none" stroke="#FCA324" stroke-width="4.4" stroke-linecap="round" stroke-linejoin="round"/>
<path d="M146.5,2268.5 C147.0,2264.8 150.1,2260.2 154.0,2258.0 C157.9,2255.8 164.8,2255.1 170.0,2255.0 C175.2,2254.9 172.7,2252.4 185.0,2257.5 C197.3,2262.6 223.8,2276.2 244.0,2285.5 C264.2,2294.8 290.9,2306.2 306.5,2313.5 C322.1,2320.8 327.2,2322.2 337.5,2329.0 C347.8,2335.8 353.0,2345.7 368.5,2354.0 C384.0,2362.3 412.4,2370.8 430.5,2379.0 C448.6,2387.2 461.4,2396.3 477.0,2403.5 C492.6,2410.7 505.8,2413.7 524.0,2422.0 C542.2,2430.3 567.9,2443.7 586.0,2453.5 C604.1,2463.3 622.8,2474.2 632.5,2481.0 C642.2,2487.8 641.3,2489.2 644.0,2494.0 C646.7,2498.8 647.8,2505.0 648.5,2510.0 C649.2,2515.0 648.9,2520.2 648.0,2524.0 C647.1,2527.8 645.6,2531.6 643.0,2532.5 C640.4,2533.4 639.4,2532.8 632.5,2529.5 C625.6,2526.2 611.8,2517.9 601.5,2512.5 C591.2,2507.1 580.8,2501.2 570.5,2497.0 C560.2,2492.8 549.9,2492.7 539.5,2487.5 C529.1,2482.3 518.4,2472.2 508.0,2466.0 C497.6,2459.8 487.3,2454.2 477.0,2450.0 C466.7,2445.8 453.8,2444.1 446.0,2441.0 C438.2,2437.9 438.2,2436.7 430.5,2431.5 C422.8,2426.3 411.9,2416.2 399.5,2410.0 C387.1,2403.8 367.4,2397.7 356.0,2394.0 C344.6,2390.3 339.2,2393.2 331.0,2388.0 C322.8,2382.8 315.8,2370.2 306.5,2363.0 C297.2,2355.8 285.4,2349.2 275.0,2344.5 C264.6,2339.8 254.3,2339.1 244.0,2335.0 C233.7,2330.9 223.3,2326.2 213.0,2320.0 C202.7,2313.8 192.3,2304.7 182.0,2298.0 C171.7,2291.3 156.9,2284.9 151.0,2280.0 C145.1,2275.1 146.0,2272.2 146.5,2268.5Z" fill="#E07A31" />
<path d="M166.5,2270.0 C179.4,2276.8 215.5,2295.0 244.0,2310.5 C272.5,2326.0 306.4,2347.5 337.5,2363.0 C368.6,2378.5 399.4,2389.5 430.5,2403.5 C461.6,2417.5 490.8,2430.4 524.0,2447.0 C557.2,2463.6 611.9,2493.7 629.5,2503.0" fill="none" stroke="#E47F2F" stroke-width="38.3" stroke-linecap="round" stroke-linejoin="round" clip-path="url(#c19)"/>
<path d="M166.5,2270.0 C179.4,2276.8 215.5,2295.0 244.0,2310.5 C272.5,2326.0 306.4,2347.5 337.5,2363.0 C368.6,2378.5 399.4,2389.5 430.5,2403.5 C461.6,2417.5 490.8,2430.4 524.0,2447.0 C557.2,2463.6 611.9,2493.7 629.5,2503.0" fill="none" stroke="#E7852E" stroke-width="34.6" stroke-linecap="round" stroke-linejoin="round" clip-path="url(#c19)"/>
<path d="M166.5,2270.0 C179.4,2276.8 215.5,2295.0 244.0,2310.5 C272.5,2326.0 306.4,2347.5 337.5,2363.0 C368.6,2378.5 399.4,2389.5 430.5,2403.5 C461.6,2417.5 490.8,2430.4 524.0,2447.0 C557.2,2463.6 611.9,2493.7 629.5,2503.0" fill="none" stroke="#EA892C" stroke-width="30.9" stroke-linecap="round" stroke-linejoin="round" clip-path="url(#c19)"/>
<path d="M166.5,2270.0 C179.4,2276.8 215.5,2295.0 244.0,2310.5 C272.5,2326.0 306.4,2347.5 337.5,2363.0 C368.6,2378.5 399.4,2389.5 430.5,2403.5 C461.6,2417.5 490.8,2430.4 524.0,2447.0 C557.2,2463.6 611.9,2493.7 629.5,2503.0" fill="none" stroke="#EE8E2A" stroke-width="27.2" stroke-linecap="round" stroke-linejoin="round" clip-path="url(#c19)"/>
<path d="M166.5,2270.0 C179.4,2276.8 215.5,2295.0 244.0,2310.5 C272.5,2326.0 306.4,2347.5 337.5,2363.0 C368.6,2378.5 399.4,2389.5 430.5,2403.5 C461.6,2417.5 490.8,2430.4 524.0,2447.0 C557.2,2463.6 611.9,2493.7 629.5,2503.0" fill="none" stroke="#F09229" stroke-width="23.5" stroke-linecap="round" stroke-linejoin="round" clip-path="url(#c19)"/>
<path d="M166.5,2270.0 C179.4,2276.8 215.5,2295.0 244.0,2310.5 C272.5,2326.0 306.4,2347.5 337.5,2363.0 C368.6,2378.5 399.4,2389.5 430.5,2403.5 C461.6,2417.5 490.8,2430.4 524.0,2447.0 C557.2,2463.6 611.9,2493.7 629.5,2503.0" fill="none" stroke="#F39728" stroke-width="19.8" stroke-linecap="round" stroke-linejoin="round" clip-path="url(#c19)"/>
<path d="M166.5,2270.0 C179.4,2276.8 215.5,2295.0 244.0,2310.5 C272.5,2326.0 306.4,2347.5 337.5,2363.0 C368.6,2378.5 399.4,2389.5 430.5,2403.5 C461.6,2417.5 490.8,2430.4 524.0,2447.0 C557.2,2463.6 611.9,2493.7 629.5,2503.0" fill="none" stroke="#F69A26" stroke-width="16.1" stroke-linecap="round" stroke-linejoin="round" clip-path="url(#c19)"/>
<path d="M166.5,2270.0 C179.4,2276.8 215.5,2295.0 244.0,2310.5 C272.5,2326.0 306.4,2347.5 337.5,2363.0 C368.6,2378.5 399.4,2389.5 430.5,2403.5 C461.6,2417.5 490.8,2430.4 524.0,2447.0 C557.2,2463.6 611.9,2493.7 629.5,2503.0" fill="none" stroke="#F89E25" stroke-width="12.4" stroke-linecap="round" stroke-linejoin="round" clip-path="url(#c19)"/>
<path d="M166.5,2270.0 C179.4,2276.8 215.5,2295.0 244.0,2310.5 C272.5,2326.0 306.4,2347.5 337.5,2363.0 C368.6,2378.5 399.4,2389.5 430.5,2403.5 C461.6,2417.5 490.8,2430.4 524.0,2447.0 C557.2,2463.6 611.9,2493.7 629.5,2503.0" fill="none" stroke="#FAA124" stroke-width="8.7" stroke-linecap="round" stroke-linejoin="round" clip-path="url(#c19)"/>
<path d="M166.5,2270.0 C179.4,2276.8 215.5,2295.0 244.0,2310.5 C272.5,2326.0 306.4,2347.5 337.5,2363.0 C368.6,2378.5 399.4,2389.5 430.5,2403.5 C461.6,2417.5 490.8,2430.4 524.0,2447.0 C557.2,2463.6 611.9,2493.7 629.5,2503.0" fill="none" stroke="#FCA324" stroke-width="5.0" stroke-linecap="round" stroke-linejoin="round" clip-path="url(#c19)"/>
<path d="M385.3,1347.2 C373.7,1347.2 373.8,1346.7 364.5,1347.6 C355.2,1348.5 340.5,1349.2 329.6,1352.7 C318.7,1356.2 307.1,1362.1 299.0,1368.7 C290.9,1375.3 285.1,1384.3 280.9,1392.4 C276.7,1400.5 274.4,1409.8 273.9,1417.5 C273.4,1425.2 274.6,1431.9 278.1,1438.4 C281.6,1444.9 287.4,1451.2 294.8,1456.5 C302.2,1461.8 312.2,1467.2 322.7,1470.4 C333.1,1473.7 347.1,1474.9 357.5,1476.0 C367.9,1477.1 374.9,1477.0 385.3,1477.1 C395.8,1477.2 410.9,1477.3 420.2,1476.7 C429.5,1476.1 434.0,1475.7 441.0,1473.2 C448.0,1470.8 456.4,1466.2 462.0,1462.0 C467.6,1457.8 471.0,1453.1 474.5,1448.0 C478.0,1442.9 480.9,1437.7 482.8,1431.4 C484.7,1425.2 485.8,1417.9 485.6,1410.5 C485.4,1403.1 483.7,1393.7 481.4,1386.9 C479.1,1380.2 475.6,1374.9 471.7,1370.0 C467.8,1365.1 464.1,1361.3 457.8,1357.6 C451.5,1353.9 446.1,1349.6 434.0,1347.9 C421.9,1346.2 396.9,1347.2 385.3,1347.2Z" fill="url(#red)" />
<path d="M995,388 L1122,354 L1122,381 L1198,381 L1198,395 L1122,395 L1122,422Z" fill="#0D50A2"/>
<path d="M995,732 L1122,698 L1122,725 L1198,725 L1198,739 L1122,739 L1122,766Z" fill="#0D50A2"/>
<path d="M995,1088.5 L1122,1054.5 L1122,1081.5 L1198,1081.5 L1198,1095.5 L1122,1095.5 L1122,1122.5Z" fill="#0D50A2"/>
<path d="M995,1468 L1122,1434 L1122,1461 L1198,1461 L1198,1475 L1122,1475 L1122,1502Z" fill="#0D50A2"/>
<path d="M923.5,1842 L1050.5,1808 L1050.5,1835 L1126.5,1835 L1126.5,1849 L1050.5,1849 L1050.5,1876Z" fill="#0D50A2"/>
<path d="M790.5,2202 L917.5,2168 L917.5,2195 L993.5,2195 L993.5,2209 L917.5,2209 L917.5,2236Z" fill="#0D50A2"/>
<text x="1231.6" y="429.8" textLength="404.3" lengthAdjust="spacingAndGlyphs">Normal</text>
<text x="1692.5" y="429.8" textLength="229.7" lengthAdjust="spacingAndGlyphs">Disc</text>
<text x="1229.8" y="769.3" textLength="735.3" lengthAdjust="spacingAndGlyphs">Degenerative</text>
<text x="2022.5" y="769.3" textLength="229.2" lengthAdjust="spacingAndGlyphs">Disc</text>
<text x="1233.5" y="1129.3" textLength="425.3" lengthAdjust="spacingAndGlyphs">Bulging</text>
<text x="1713.5" y="1129.3" textLength="228.6" lengthAdjust="spacingAndGlyphs">Disc</text>
<text x="1233.7" y="1506.6" textLength="548.6" lengthAdjust="spacingAndGlyphs">Herniated</text>
<text x="1839.0" y="1506.6" textLength="228.6" lengthAdjust="spacingAndGlyphs">Disc</text>
<text x="1232.9" y="1879.8" textLength="491.7" lengthAdjust="spacingAndGlyphs">Thinning</text>
<text x="1779.5" y="1879.8" textLength="229.7" lengthAdjust="spacingAndGlyphs">Disc</text>
<text x="1032.5" y="2157.0" textLength="227.6" lengthAdjust="spacingAndGlyphs">Disc</text>
<text x="1315.2" y="2157.0" textLength="757.4" lengthAdjust="spacingAndGlyphs">Degeneration</text>
<text x="2126.5" y="2157.0" textLength="237.3" lengthAdjust="spacingAndGlyphs">with</text>
<text x="1031.9" y="2314.5" textLength="638.7" lengthAdjust="spacingAndGlyphs">Osteophyte</text>
<text x="1732.0" y="2314.5" textLength="539.7" lengthAdjust="spacingAndGlyphs">formation</text>
</svg>
</body></html>
